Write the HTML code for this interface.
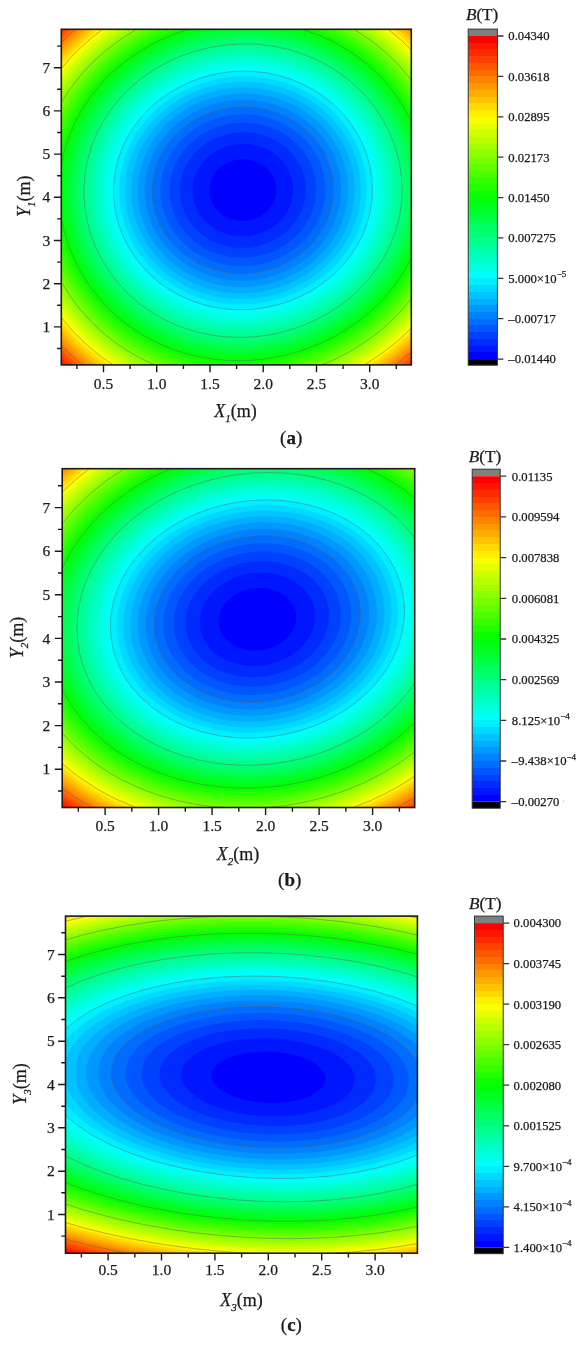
<!DOCTYPE html>
<html><head><meta charset="utf-8"><title>Figure</title>
<style>html,body{margin:0;padding:0;background:#fff;}body{width:587px;height:1348px;overflow:hidden;font-family:"Liberation Serif",serif;}svg{display:block;filter:blur(0.4px);}svg text{stroke:#1a1a1a;stroke-width:0.25px;}</style>
</head><body>
<svg width="587" height="1348" viewBox="0 0 587 1348">
<circle cx="563.4" cy="801" r="0.6" fill="#999"/>
<rect x="61.3" y="29.3" width="350" height="335.6" fill="#ff1600"/>
<path d="M61.3,29.3L411.3,29.3 411.3,364.9 65,364.9 61.3,361.4Z" fill="#ff2b00"/>
<path d="M61.3,30.9L63,29.3 411.3,29.3 411.3,362.8 408.7,364.9 69.2,364.9 61.3,357.5Z" fill="#ff4100"/>
<path d="M61.3,34.6L67,29.3 411.3,29.3 411.3,359.3 404.3,364.9 73.5,364.9 61.3,353.5Z" fill="#ff5700"/>
<path d="M61.3,38.5L71,29.3 411.3,29.3 411.3,355.7 399.8,364.9 77.9,364.9 71.8,359.5 61.3,349.4Z" fill="#ff6d00"/>
<path d="M61.3,42.4L75.2,29.3 411.3,29.3 411.3,352 395.2,364.9 82.5,364.9 75.8,359.2 61.3,345.2Z" fill="#ff8200"/>
<path d="M61.3,46.4L70,37.8 79.4,29.3 411.2,29.3 411.3,348.3 401.2,356.8 390.4,364.9 87.1,364.9 79.8,358.8 70.3,350.2 61.3,340.9Z" fill="#ff9800"/>
<path d="M61.3,50.6L72.3,39.5 83.8,29.3 406.9,29.3 411.3,33.3 411.3,344.4 398.8,355.1 385.5,364.9 91.9,364.9 84.3,358.8 72.3,348 61.3,336.5Z" fill="#ffae00"/>
<path d="M61.3,54.9L74.3,41.5 88.3,29.3 402.4,29.3 411.3,37.4 411.3,340.5 396.4,353.3 380.5,364.9 96.9,364.9 88.3,358.2 74.3,345.7 61.3,332Z" fill="#ffc300"/>
<path d="M61.3,59.3L68.6,51.3 76.3,43.6 84.4,36.3 92.9,29.3 397.8,29.3 411.3,41.5 411.3,336.4 402.8,344.2 394.2,351.3 384.9,358.3 375.2,364.9 102.1,364.9 92.8,357.9 84.3,350.8 76.3,343.4 68.8,335.8 61.3,327.3Z" fill="#ffd900"/>
<path d="M61.3,63.9L69.3,54.8 78.3,45.8 87.7,37.3 97.7,29.3 393,29.3 402.4,37.3 411.3,45.8 411.3,332.3 401.6,341.3 391.4,349.8 380.8,357.6 369.7,364.9 107.5,364.9 97.3,357.5 87.8,349.8 78.3,341.1 69.3,331.8 61.3,322.4Z" fill="#ffef00"/>
<path d="M61.3,68.6L70.6,57.8 80.5,47.8 91.1,38.3 102.6,29.3 388.1,29.3 400.1,39.3 411.3,50.1 411.3,328 400.5,338.3 389.1,347.8 376.8,356.8 364,364.9 113.1,364.9 102.1,357.3 90.8,348.3 80.3,338.7 70.4,328.3 61.3,317.4Z" fill="#faff00"/>
<path d="M61.3,73.6L71.6,61.3 82.8,49.8 94.8,39.1 107.7,29.3 383,29.3 397.8,41.4 411.3,54.7 411.3,323.6 399.3,335.3 386.7,345.8 372.8,355.8 358.1,364.9 119,364.9 106.8,356.8 94.3,347.1 82.3,336.2 71.3,324.6 61.3,312.2Z" fill="#e4ff00"/>
<path d="M61.3,78.8L72.3,65.1 84.8,52.1 98.3,40.2 113,29.3 377.8,29.3 386.8,36.2 395.3,43.4 403.7,51.3 411.3,59.3 411.3,319 398.3,332 383.8,344.2 368.3,355.2 351.8,364.9 125.2,364.9 112.3,356.8 97.8,345.9 84.4,333.8 72.2,320.8 61.3,306.8Z" fill="#ceff00"/>
<path d="M64.8,79.3L76.3,65.3 89.1,52.3 103.3,40.2 118.5,29.3 372.3,29.3 382.8,37 392.8,45.4 402.3,54.4 411.3,64.2 411.3,314.2 397.1,328.8 389.3,335.7 381.1,342.3 363.8,354.4 345.2,364.9 131.7,364.9 114.8,354.6 99.8,343.3 85.5,330.3 72.7,316.3 61.3,301.1 61.3,84.2Z" fill="#b8ff00"/>
<path d="M70.8,76.8L82.5,63.3 95.3,50.9 109.3,39.5 124.3,29.3 366.5,29.3 381.1,39.8 391.8,48.8 402,58.8 411.3,69.2 411.3,309.3 403.8,317.7 395.8,325.7 387.3,333.3 378.3,340.5 368.8,347.3 358.8,353.8 348.8,359.5 338.1,364.9 138.7,364.9 127.3,358.6 116.3,351.6 108.2,345.8 100.3,339.5 85.8,326 72.8,311.2 61.3,295.1 61.3,89.9Z" fill="#a3ff00"/>
<path d="M76.6,74.8L88.3,61.9 101.3,49.9 115.3,39.1 130.4,29.3 360.5,29.3 368.2,34.3 380.3,43.3 391.3,52.8 401.8,63.3 411.3,74.4 411.3,304.2 403.3,313.4 394.6,322.3 385.2,330.8 375.2,338.8 364.8,346.2 353.8,353 342.3,359.3 330.5,364.9 146.2,364.9 131.8,357.4 118.1,348.8 109.8,342.8 101.7,336.3 93.9,329.3 86.4,321.8 79.3,313.8 72.8,305.8 66.8,297.4 61.3,288.8 61.3,96 68.5,85.3Z" fill="#8dff00"/>
<path d="M83.1,72.3L94.8,60.1 107.8,48.8 121.8,38.5 136.7,29.3 354.1,29.3 366.7,37.3 379.3,46.8 390.8,56.9 401.3,67.8 411.3,79.9 411.3,298.8 402.6,309.3 393,319.3 382.8,328.6 371.8,337.3 360.2,345.3 347.8,352.7 335.3,359.2 322.2,364.9 154.4,364.9 136.7,356.3 128.1,351.3 119.7,345.8 110.8,339.3 102.3,332.3 94.3,325 86.8,317.2 79.5,308.8 73,300.3 66.9,291.3 61.3,282.1 61.3,102.5 71.5,86.8Z" fill="#77ff00"/>
<path d="M90.3,69.4L102.2,57.8 115.1,47.3 128.8,37.8 143.5,29.3 347.4,29.3 356.8,34.8 365.3,40.4 378.3,50.3 390.3,61.2 401.3,72.9 411.3,85.6 411.3,293.1 402,304.8 391.7,315.8 380.3,326.3 368.3,335.8 355.3,344.5 341.8,352.3 327.8,359 313,364.9 163.5,364.9 152.3,360.3 141.3,354.9 130.8,348.9 120.8,342.4 111.8,335.7 102.8,328.2 94.5,320.3 86.8,312 79.6,303.3 73,294.3 66.9,284.8 61.3,274.8 61.3,109.5 67.5,98.8 74.3,88.7 81.9,78.8Z" fill="#62ff00"/>
<path d="M98.3,66.1L110.3,55.3 122.8,45.8 136.3,37.1 150.8,29.3 340.1,29.3 353.3,36.7 365.6,44.8 378.3,54.8 390.6,66.3 401.3,78.3 411.3,91.7 411.3,287.2 399.3,302.7 388.4,314.3 376.3,325.2 363.1,335.3 349.2,344.3 334.3,352.3 318.8,359.2 302.6,364.9 173.9,364.9 159.8,359.7 146.3,353.6 133.3,346.4 120.8,338.2 111.3,330.9 102.6,323.3 94.3,315.1 86.5,306.3 79.3,297.1 72.6,287.3 66.6,277.3 61.3,266.9 61.3,117.2 68.8,103.3 77.4,90.3 87.2,77.8Z" fill="#4cff00"/>
<path d="M107.4,62.3L119.3,52.5 131.8,43.8 144.8,36.2 158.7,29.3 332.3,29.3 342.3,34.3 351.8,39.8 361.3,46 370.3,52.7 382,62.8 392.8,73.8 402.7,85.8 411.3,98.2 411.3,280.8 401.3,294.7 390.8,306.9 379.1,318.3 366.3,328.8 352.3,338.4 337.7,346.8 322.3,354.1 306.3,360.2 290,364.9 186.4,364.9 176.8,362.2 167.3,358.9 158.3,355.3 149.3,351.1 140.8,346.7 132.3,341.6 124.3,336.3 116.3,330.3 107.4,322.8 99.3,315.1 91.6,306.8 84.3,297.8 77.5,288.3 71.6,278.8 66.2,268.8 61.3,258 61.3,125.8 65.4,116.8 70,108.3 75.1,99.8 80.6,91.8 86.7,83.8 93.2,76.3 99.9,69.3Z" fill="#36ff00"/>
<path d="M117.8,58.1L129.3,49.6 141.3,42 153.9,35.3 167.3,29.3 323.7,29.3 337.6,35.8 350.8,43.3 363.3,51.8 375.3,61.5 385.5,71.3 394.9,81.8 403.7,93.3 411.3,105.1 411.3,273.9 402.3,287.5 392,300.3 380.4,312.3 367.7,323.3 353.8,333.3 338.8,342.3 323.3,349.9 307,356.3 290.3,361.3 273.3,364.9 203,364.9 185.8,361.1 175.3,358 165.3,354.3 155.3,350 145.8,345.3 136.8,340.2 127.7,334.3 119.3,328.1 111.1,321.3 102.8,313.5 95.1,305.3 87.8,296.4 81.3,287.4 75.3,277.9 70.1,268.3 65.4,258.3 61.3,247.8 61.3,135.8 65.8,124.5 71,113.8 77.1,103.3 83.8,93.4 91.3,83.8 99.4,74.8 108.3,66.2Z" fill="#21ff00"/>
<path d="M132.3,51.8L142.8,45.2 153.8,39.2 165.3,33.9 177.1,29.3 313.9,29.3 323.8,33.2 333.6,37.8 342.8,42.7 351.8,48.2 360.6,54.3 368.8,60.7 376.3,67.4 383.8,74.8 391.8,83.7 398.8,92.8 405.3,102.4 411.3,112.7 411.3,266.5 404.5,277.8 396.7,288.8 388,299.3 378.3,309.3 363.8,321.8 348.3,332.6 331.3,342.2 313.8,350.1 295.3,356.3 276.3,360.8 256.8,363.5 237.3,364.4 218.3,363.4 199.3,360.6 180.8,355.9 163.3,349.6 146.8,341.7 130.8,331.9 116.2,320.8 102.8,308.2 95.7,300.3 89,291.8 83,283.3 77.5,274.3 72.5,264.8 68.2,255.3 64.4,245.3 61.3,235.4 61.3,147.9 66,133.8 71.8,120.3 79.3,106.8 87.7,94.3 97.3,82.4 108,71.3 119.8,61Z" fill="#0bff00"/>
<path d="M149,45.8L158.6,40.8 168.3,36.5 178.3,32.6 188.4,29.3 302.6,29.3 315.8,33.9 328.8,39.5 340.9,45.8 352.8,53.3 363.8,61.4 374,70.3 383.4,79.8 392.3,90.3 402.7,105.3 411.3,121.1 411.3,258.2 406.8,266.8 401.8,275.1 396.3,283.2 390.3,290.9 383.8,298.4 376.8,305.6 369.6,312.3 361.7,318.8 346.3,329.6 330.2,338.8 312.8,346.6 294.6,352.8 275.8,357.3 257.3,359.9 238.3,360.8 219.3,359.9 200.8,357.1 182.8,352.7 165.8,346.6 149.2,338.8 133.8,329.5 119.3,318.5 106.2,306.3 94.3,292.6 84,277.8 75.2,261.8 68.3,245 63.3,227.8 61.3,217.7 61.3,165.3 62.9,157.3 67.6,140.3 74.3,123.8 82.8,108.1 93.1,93.3 104.8,79.7 118.3,66.9 132.8,55.8Z" fill="#00ff0b"/>
<path d="M174.8,37.7L188.8,32.9 202.7,29.3 288.3,29.3 298.1,31.8 307.6,34.8 322.8,40.8 337.7,48.3 351.3,56.8 364.4,66.8 376.3,77.8 387,89.8 396.5,102.8 404.8,116.8 411.3,130.6 411.3,248.7 405.1,261.8 397.8,274.3 389.1,286.3 379.3,297.7 368.4,308.3 356.8,317.9 344.3,326.5 330.8,334.3 314.3,342.1 296.8,348.3 278.8,352.9 260.8,355.8 242.3,357.1 223.8,356.5 205.8,354.3 188.3,350.4 171.3,344.8 155.3,337.7 139.8,328.8 125.7,318.8 112.6,307.3 100.8,294.5 90.3,280.4 81.6,265.8 74.3,250 68.8,233.8 65.1,216.8 63.2,199.8 63.3,182.8 65.2,165.8 68.9,149.3 74.6,132.8 81.9,117.3 90.8,102.8 101.6,88.8 113.8,75.9 127.4,64.3 142.3,53.9 158.3,45Z" fill="#00ff21"/>
<path d="M217.3,30.3L225.4,29.3 265.7,29.3 279.5,31.3 294.8,34.8 309.3,39.4 323.3,45.2 336.8,52.2 349.8,60.4 361.8,69.7 372.8,79.8 382.8,90.8 391.8,102.8 399.5,115.3 406,128.3 411.3,142 411.3,237.4 407.6,247.3 403.3,256.7 398.4,265.8 392.8,274.7 382.1,288.8 369.8,301.8 355.9,313.8 340.8,324.3 324.3,333.4 306.8,341 288.8,346.7 270.3,350.7 252.8,352.8 235.3,353.3 218.3,352.2 201.3,349.6 184.8,345.4 168.8,339.6 153.8,332.5 139.3,323.9 125.8,313.8 113.7,302.8 102.5,290.3 92.8,277 84.5,262.8 77.7,247.8 72.6,232.3 69,216.3 67.3,200.3 67.2,184.3 68.8,168.3 72,152.8 76.8,137.8 83.3,123.1 91.3,109.1 100.8,95.8 111.8,83.3 123.8,72.1 137.3,61.7 151.8,52.6 167.3,44.8 183.3,38.6 200.3,33.6Z" fill="#00ff36"/>
<path d="M246.3,32L265.3,33.1 283.8,36 301.8,40.9 318.8,47.4 327.3,51.4 335.3,55.8 350.6,65.8 364.5,77.3 371.2,83.8 377.1,90.3 382.9,97.3 388.3,104.8 397.4,119.8 401.3,127.8 404.7,135.8 407.8,144.3 411.3,157.1 411.3,222.5 407.4,236.3 402.3,249.3 395.7,262.3 387.9,274.8 379,286.3 368.8,297.3 357.8,307.3 345.9,316.3 332.8,324.6 319.3,331.6 304.8,337.7 290.3,342.4 275.3,346 259.8,348.3 244.3,349.4 228.8,349.2 212.3,347.6 196.3,344.5 180.8,340 165.8,334 151.3,326.6 137.8,318 125.3,308.2 113.9,297.3 103.6,285.3 94.6,272.3 87,258.8 80.7,244.3 76,229.3 72.9,214.3 71.3,198.8 71.3,183.3 72.9,168.3 76.1,153.3 80.8,138.8 86.9,124.8 94.6,111.3 103.4,98.8 113.8,86.8 125.3,75.9 137.8,66.1 151.3,57.3 165.8,49.7 181.3,43.3 197.2,38.3 213.3,34.8 229.8,32.7Z" fill="#00ff4c"/>
<path d="M240.3,35.9L256.8,36.2 273.3,38 289.3,41.3 305.3,46.2 320.3,52.4 334.8,60.1 348.3,69.1 360.7,79.3 371.8,90.4 381.9,102.8 390.7,116.3 397.9,130.3 403.6,144.8 407.6,159.8 410.1,175.3 410.8,190.8 409.8,206.3 407.3,221.3 403.1,235.8 397.3,250.3 390.1,263.8 381.3,276.9 371.3,288.9 359.8,300.3 347.3,310.4 333.3,319.7 318.8,327.5 303.3,334.1 287.3,339.2 270.9,342.8 254.3,344.9 237.8,345.6 221.8,344.7 205.8,342.4 190.3,338.7 175.3,333.7 160.8,327.2 147.3,319.5 134.3,310.3 122.7,300.3 111.8,288.8 102.5,276.8 94.3,263.7 87.4,249.8 82,235.3 78.3,220.8 76,205.8 75.3,190.3 76.2,175.3 78.5,160.8 82.5,146.3 87.9,132.3 94.8,118.8 103.2,105.8 112.8,93.8 123.5,82.8 135.3,72.8 148.3,63.7 162.2,55.8 176.8,49.1 191.9,43.8 207.8,39.7 223.8,37.1Z" fill="#00ff62"/>
<path d="M238.3,39.9L254.8,40.1 270.8,41.7 286.7,44.8 302,49.3 316.8,55.3 330.8,62.5 344.3,71.3 356.3,80.9 367.4,91.8 377.4,103.8 386.1,116.8 393.3,130.3 398.9,144.3 403,158.8 405.6,173.8 406.5,188.8 405.8,203.8 403.5,218.3 399.6,232.8 394.3,246.6 387.3,260.2 379.1,272.8 369.4,284.8 358.6,295.8 346.7,305.8 333.3,315 319.2,322.8 304.3,329.4 288.8,334.6 273.3,338.3 257.3,340.6 240.8,341.5 224.8,340.9 209.3,339 194.3,335.6 179.3,330.8 165.3,324.8 151.7,317.3 139.2,308.8 127.3,298.8 116.8,288.1 107.3,276.3 99.2,263.8 92.3,250.3 86.8,236.3 82.9,221.8 80.4,207.3 79.5,192.3 80.2,177.8 82.4,163.3 86,149.3 91.2,135.3 97.8,122 105.8,109.4 114.8,97.8 125.3,86.8 136.8,76.8 149.3,67.8 162.8,60 176.8,53.4 191.8,48 206.8,44 222.3,41.3Z" fill="#00ff77"/>
<path d="M238.8,44L254.8,44.2 270.3,45.7 285.8,48.8 300.8,53.3 315.3,59.2 328.8,66.2 341.3,74.3 353.3,83.9 364.3,94.7 373.8,106.2 382.3,118.8 389.1,131.8 394.8,145.8 398.7,159.8 401.2,174.3 402.1,188.8 401.4,203.3 399.1,217.8 395.3,231.8 390.1,245.3 383.4,258.3 375.3,270.7 365.9,282.3 355.3,293.1 343.7,302.8 330.8,311.6 317.3,319.1 302.8,325.6 287.8,330.6 272.3,334.3 256.8,336.6 240.8,337.4 225.3,336.8 210.3,334.9 195.3,331.5 180.8,326.8 166.9,320.8 153.8,313.6 141.7,305.3 130.4,295.8 120.1,285.3 110.8,273.6 102.8,261.3 96.2,248.3 91,234.8 87.1,220.8 84.8,206.8 83.9,192.3 84.6,177.8 86.7,163.8 90.3,150.1 95.3,136.8 101.7,123.8 109.3,111.8 118.2,100.3 128.3,89.7 139.7,79.8 151.8,71.1 164.8,63.5 178.8,57 193.3,51.7 208.3,47.8 223.3,45.2Z" fill="#00ff8d"/>
<path d="M244.3,48.1L259.8,48.7 274.8,50.8 289.8,54.2 304.3,59.1 318.2,65.3 331.3,72.8 343.3,81.3 354.3,90.8 364.3,101.4 373.5,113.3 381.1,125.8 387.3,138.8 392.1,152.3 395.4,166.3 397.2,180.3 397.4,194.8 396.1,208.8 393.3,222.8 388.9,236.3 383.2,249.3 376,261.8 367.4,273.8 357.6,284.8 346.8,294.8 334.8,303.9 321.8,312 308,318.8 293.8,324.3 278.8,328.6 263.8,331.4 248.8,332.9 233.3,333 218.3,331.8 203.8,329.2 189.8,325.4 176.2,320.3 163.3,314 150.8,306.4 139.3,297.7 128.8,288.1 119.2,277.3 110.8,265.8 103.8,253.7 97.9,240.8 93.4,227.3 90.4,213.8 88.8,200.3 88.6,186.3 89.8,172.8 92.4,159.3 96.3,146.3 101.8,133.3 108.3,121.3 116.3,109.7 125.4,98.8 135.8,88.6 147.3,79.4 159.3,71.5 172.3,64.5 185.8,58.7 199.8,54.2 214.6,50.8 229.3,48.8Z" fill="#00ffa3"/>
<path d="M236.8,52.5L251.8,52.5 266.4,53.8 280.8,56.4 295.3,60.5 308.8,65.7 321.8,72.3 333.8,79.8 345.3,88.7 355.8,98.7 364.9,109.3 372.9,120.8 379.8,133.3 385.2,146.3 389.2,159.3 391.7,172.8 392.8,186.3 392.4,199.8 390.6,213.3 387.4,226.3 382.7,239.3 376.7,251.8 369.3,263.6 360.7,274.8 350.8,285.2 339.8,294.7 328.3,302.9 315.6,310.3 302.3,316.5 288.3,321.5 273.8,325.3 259.3,327.6 244.3,328.7 229.8,328.5 215.3,326.9 201.3,324.1 187.8,320 174.8,314.8 162.3,308.3 150.3,300.5 139.3,291.7 129.3,282 120.3,271.3 112.5,259.8 106,247.8 100.8,235.3 96.8,221.8 94.3,208.3 93.2,194.8 93.5,181.3 95.2,168.3 98.3,155.3 102.8,142.3 108.7,129.8 115.7,118.3 123.9,107.3 133.3,97.1 143.8,87.6 155.1,79.3 167.3,71.9 180.3,65.6 193.8,60.5 207.8,56.6 222.3,53.9Z" fill="#00ffb8"/>
<path d="M256.3,57.2L270.8,59 284.8,62 298.8,66.5 311.8,72.2 324.3,79.1 335.8,87 346.8,96.3 356.3,106.2 364.8,117.1 372.1,128.8 378.2,141.3 382.7,153.8 385.9,166.8 387.6,180.3 387.9,193.8 386.7,207.3 384.1,220.3 380,233.3 374.5,245.8 367.8,257.4 359.8,268.5 350.7,278.8 340.3,288.4 328.8,297.1 316.3,304.8 303.3,311.2 289.8,316.3 275.8,320.2 261.3,322.9 246.8,324.2 232.3,324.1 217.8,322.7 204.3,320.1 191.3,316.4 178.3,311.3 166.4,305.3 155.3,298.3 144.8,290.3 135.2,281.3 126.3,271.2 118.8,260.8 112.1,249.3 106.7,237.3 102.5,224.8 99.7,212.3 98.2,199.3 98,186.3 99.2,173.3 101.7,160.8 105.6,148.3 110.4,136.8 116.7,125.3 123.9,114.8 132.3,104.7 141.8,95.4 152.3,86.8 163.5,79.3 175.3,72.8 187.9,67.3 201.3,62.8 214.8,59.6 228.8,57.6 242.8,56.8Z" fill="#00ffce"/>
<path d="M236.3,61.6L250.3,61.5 263.8,62.6 277.3,65 290.8,68.7 303.8,73.6 315.8,79.6 327.3,86.7 337.8,94.7 347.5,103.8 356.2,113.8 363.8,124.5 370.2,135.8 375.3,147.5 379.2,159.8 381.7,172.3 382.9,185.3 382.7,197.8 381.2,210.3 378.3,222.8 374.1,234.8 368.7,246.3 361.8,257.6 353.8,268.2 344.9,277.8 334.8,286.8 323.8,294.8 312,301.8 299.8,307.6 286.8,312.4 273.3,316 259.8,318.4 245.8,319.5 232.3,319.4 218.8,318.1 205.3,315.5 192.6,311.8 180.3,307 168.3,300.8 157.3,293.8 147,285.8 137.6,276.8 129,266.8 121.7,256.3 115.4,244.8 110.3,232.9 106.6,220.8 104.1,208.3 103,195.8 103.2,183.3 104.7,170.8 107.5,158.3 111.6,146.3 116.9,134.8 123.4,123.8 131.2,113.3 139.8,103.8 149.7,94.8 160.3,86.9 171.8,79.9 183.8,74 196.3,69.2 209.3,65.5 222.8,62.9Z" fill="#00ffe4"/>
<path d="M243.8,66.1L257.3,66.7 270.3,68.5 283.3,71.4 295.8,75.6 307.8,80.9 319.3,87.3 330,94.8 339.8,103.2 348.8,112.7 356.6,122.8 363.3,133.6 368.7,144.8 373,156.8 375.9,168.8 377.5,180.8 377.7,193.3 376.7,205.8 374.3,217.7 370.7,229.3 365.7,240.8 359.6,251.8 352.1,262.3 343.8,271.9 334.3,280.8 323.9,288.8 312.8,295.8 300.8,301.9 288.4,306.8 275.3,310.6 262.3,313.2 249.3,314.5 235.8,314.7 222.8,313.7 209.8,311.5 197.3,308.2 185.4,303.8 174,298.3 163.2,291.8 153.1,284.3 143.8,275.9 135.5,266.8 128.1,256.8 121.8,246.1 116.5,234.8 112.6,223.3 109.8,211.3 108.4,199.3 108.1,187.3 109.2,175.3 111.5,163.3 115,151.8 119.6,140.8 125.3,130.3 132.3,120 140.3,110.4 149.1,101.8 158.8,93.9 169.4,86.8 180.8,80.6 192.8,75.5 205.3,71.4 217.8,68.6 230.8,66.8Z" fill="#00fffa"/>
<path d="M240.8,71.1L253.8,71.4 266.3,72.8 278.8,75.4 291.3,79.3 302.8,84.1 313.8,89.9 324.1,96.8 333.8,104.7 342.4,113.3 350.2,122.8 356.8,132.9 362.5,143.8 366.8,154.8 369.9,166.3 371.8,177.8 372.4,189.8 371.7,201.8 369.8,213.3 366.6,224.8 362.3,235.7 356.7,246.3 350.1,256.3 342.4,265.8 333.8,274.4 324.2,282.3 313.8,289.4 302.8,295.4 290.8,300.6 278.3,304.7 265.8,307.5 253.3,309.2 240.3,309.8 227.8,309.2 215.3,307.5 203.3,304.7 191.3,300.7 179.8,295.5 169.3,289.6 159.3,282.6 150.3,274.9 142,266.3 134.6,256.8 128.2,246.8 123,236.3 118.8,225.3 115.8,213.8 114,202.3 113.4,190.8 114.1,179.3 115.9,167.8 118.9,156.8 123.1,145.8 128.4,135.3 134.8,125.3 142.3,115.9 150.6,107.3 159.8,99.5 169.8,92.5 180.6,86.3 191.8,81.2 203.8,77 215.8,74 228.3,72Z" fill="#00efff"/>
<path d="M247.8,76.3L260.3,77.2 272.3,79.2 283.9,82.3 295.3,86.5 306.3,91.8 316.8,98.2 326.3,105.3 334.9,113.3 342.8,122.2 349.7,131.8 355.4,141.8 360,152.3 363.4,163.3 365.7,174.3 366.7,185.8 366.5,197.3 365,208.8 362.3,219.8 358.6,230.3 353.5,240.8 347.3,250.8 340.4,259.8 332.3,268.4 323.3,276.3 313.3,283.4 302.8,289.5 291.3,294.8 279.8,298.8 267.8,301.8 255.3,303.8 242.8,304.6 230.8,304.2 218.8,302.7 207.3,300.3 196.2,296.8 185.4,292.3 175.1,286.8 165.3,280.3 156.6,273.3 148.5,265.3 141.3,256.7 134.9,247.3 129.5,237.3 125.3,227.1 122.1,216.3 120,205.3 119.1,194.3 119.3,183.3 120.7,172.3 123.2,161.8 126.8,151.3 131.4,141.3 137,131.8 143.8,122.5 151.3,114.1 159.8,106.3 169.3,99.1 179.3,92.9 189.8,87.7 200.8,83.4 212.3,80.1 223.8,77.8 235.8,76.5Z" fill="#00d9ff"/>
<path d="M241.3,81.7L252.8,81.9 264.3,83.3 275.8,85.7 286.8,89.1 297.3,93.4 307.4,98.8 317.2,105.3 325.8,112.4 333.7,120.3 340.6,128.8 346.8,138.2 351.8,147.8 355.9,158.3 358.7,168.8 360.4,179.3 360.9,190.3 360.3,200.8 358.5,211.3 355.6,221.8 351.6,231.8 346.3,241.8 340.3,250.8 333.3,259.3 325.3,267.3 316.7,274.3 307,280.8 296.9,286.3 286.3,290.9 275.3,294.4 263.8,297.1 252.3,298.6 240.3,299.1 228.8,298.5 217.3,296.9 206.3,294.2 195.8,290.7 185.8,286.3 175.8,280.6 166.8,274.4 158.5,267.3 150.8,259.3 144.3,251 138.4,241.8 133.7,232.3 129.8,222.3 127.1,211.8 125.4,201.3 124.9,190.8 125.5,180.3 127.2,169.8 129.8,159.8 133.7,149.8 138.5,140.3 144.3,131.2 151.3,122.4 158.8,114.6 167.3,107.4 176.3,101.1 186.3,95.4 196.4,90.8 207.3,87 218.3,84.2 229.8,82.4Z" fill="#00c3ff"/>
<path d="M231.3,88L242.3,87.3 253.3,87.7 264.3,89.1 274.8,91.3 285.3,94.7 295,98.8 304.3,103.8 313.3,109.8 321.3,116.3 328.8,123.8 335.4,131.8 341.3,140.8 346,149.8 349.7,159.3 352.4,168.8 354.1,178.8 354.7,188.8 354.2,198.8 352.7,208.8 350.2,218.3 346.7,227.8 342.2,236.8 336.8,245.3 330.2,253.8 323,261.3 314.9,268.3 306.3,274.4 296.8,279.9 287.2,284.3 276.8,288 266.3,290.7 255.3,292.5 244.3,293.3 233.3,293.1 222.3,291.9 211.8,289.7 201.8,286.7 191.8,282.6 182.3,277.7 173.3,271.8 164.8,264.9 157.3,257.5 150.6,249.3 144.9,240.8 140.2,231.8 136.3,222.3 133.5,212.3 131.8,202.3 131.1,192.3 131.5,182.3 132.9,172.3 135.5,162.3 139,152.8 143.7,143.3 149.3,134.5 155.8,126.3 163,118.8 171.1,111.8 179.8,105.7 189.3,100.3 199.3,95.8 209.8,92.2 220.3,89.6Z" fill="#00aeff"/>
<path d="M231.8,94L242.3,93.4 252.3,93.7 262.8,94.9 272.8,97.1 282.3,100.1 291.8,104.1 300.6,108.8 308.8,114.2 316.3,120.3 323.4,127.3 329.6,134.8 335,142.8 339.5,151.3 343.2,160.3 345.8,169.3 347.5,178.8 348.1,188.3 347.7,197.8 346.3,207.3 344,216.3 340.7,225.3 336.5,233.8 331.3,242.1 325.3,249.8 318.6,256.8 311.2,263.3 302.8,269.3 294.2,274.3 284.8,278.7 275.3,282.1 265.3,284.7 255.3,286.4 244.8,287.2 234.3,287 223.8,285.9 213.8,283.9 204.3,281 194.8,277.1 185.8,272.4 177.3,266.9 169.7,260.8 162.6,253.8 156.3,246.2 150.8,238.1 146.1,229.3 142.5,220.3 139.9,211.3 138.3,201.8 137.6,192.3 138,182.8 139.4,173.3 141.8,163.8 145.2,154.8 149.4,146.3 154.7,137.8 160.6,130.3 167.8,122.8 175.3,116.4 183.3,110.8 192.3,105.6 201.8,101.3 211.3,98.1 221.3,95.6Z" fill="#0098ff"/>
<path d="M245.8,99.8L255.8,100.4 265.3,102 274.8,104.4 283.8,107.7 292.3,111.7 300.3,116.4 307.8,121.9 315,128.3 321.3,135.2 326.8,142.6 331.3,150.3 335.2,158.8 338.1,167.3 340.1,176.3 341,185.3 341,194.3 340,203.3 338.1,211.8 335.3,220.3 331.4,228.8 326.6,236.8 321.1,244.3 314.8,251.2 307.8,257.5 299.9,263.3 291.8,268.2 283.2,272.3 273.8,275.8 264.3,278.3 254.8,279.9 245.3,280.7 235.3,280.6 225.8,279.6 216.8,277.9 207.8,275.2 199,271.8 190.8,267.6 183.1,262.8 175.8,257.1 169.1,250.8 163.3,244.1 158.1,236.8 153.6,228.8 150.1,220.8 147.4,212.3 145.5,203.3 144.7,194.8 144.7,185.8 145.7,177.3 147.5,168.8 150.3,160.3 153.9,152.3 158.3,144.6 163.5,137.3 169.7,130.3 176.3,124.1 183.8,118.3 191.3,113.6 199.6,109.3 208.3,105.8 217.3,103.1 226.8,101.1 236.3,100Z" fill="#0082ff"/>
<path d="M239.8,106.7L248.8,106.8 257.8,107.7 266.3,109.3 274.8,111.8 282.8,114.9 290.8,118.9 298.3,123.7 304.9,128.8 311.2,134.8 316.8,141.3 321.7,148.3 325.6,155.3 328.8,162.8 331.3,170.8 332.8,178.8 333.6,187.3 333.4,195.3 332.3,203.6 330.3,211.8 327.6,219.3 324.1,226.8 319.5,234.3 314.3,241.1 308.5,247.3 301.8,253.1 294.8,258.2 287.3,262.6 279.3,266.3 270.8,269.4 262.3,271.6 253.3,273.1 244.3,273.8 235.3,273.6 226.8,272.7 218.3,271 209.8,268.4 201.8,265.2 194.2,261.3 186.8,256.5 180.2,251.3 174,245.3 168.5,238.8 163.8,231.9 159.9,224.8 156.8,217.3 154.3,209.3 152.8,201.3 152.1,192.8 152.4,184.3 153.5,176.3 155.4,168.3 158.1,160.8 161.7,153.3 166,146.3 170.8,139.8 176.8,133.3 183.3,127.6 190.3,122.4 197.8,118 205.6,114.3 213.8,111.3 222.3,109 230.8,107.5Z" fill="#006dff"/>
<path d="M240.8,114.2L249.3,114.4 257.3,115.3 265.3,116.9 272.8,119.2 280.3,122.2 287.2,125.8 293.8,130.1 299.8,134.8 305.5,140.3 310.6,146.3 314.8,152.5 318.5,159.3 321.4,166.3 323.4,173.3 324.8,180.8 325.4,188.3 325.1,195.8 324,203.3 322.1,210.8 319.5,217.8 316,224.8 311.8,231.3 307.1,237.3 301.8,242.8 295.8,248 289.3,252.5 282.3,256.5 275.1,259.8 267.3,262.5 259.3,264.5 251.3,265.7 243.3,266.2 235.3,266 227.3,265 219.3,263.3 211.8,261 204.3,257.8 197.7,254.3 191.3,250.1 185.3,245.3 179.8,239.8 174.8,233.8 170.4,227.3 167,220.8 164.2,213.8 162.1,206.8 160.8,199.3 160.3,191.8 160.6,184.3 161.7,176.8 163.5,169.8 166,162.8 169.3,156.1 173.3,149.7 177.8,143.8 183.3,137.9 189.2,132.8 195.4,128.3 202.3,124.3 209.7,120.8 217.3,118.1 224.8,116.2 232.8,114.8Z" fill="#0057ff"/>
<path d="M235.8,122.9L243.3,122.6 250.3,122.9 257.3,123.8 264.3,125.4 270.8,127.5 277.4,130.3 283.8,133.8 289.3,137.5 294.5,141.8 299.5,146.8 303.8,152.1 307.5,157.8 310.6,163.8 313,169.8 314.8,176.3 315.9,182.8 316.2,189.3 315.9,195.8 314.9,202.3 313.2,208.8 310.8,215.2 307.8,221.1 304.2,226.8 299.8,232.3 294.9,237.3 289.6,241.8 283.9,245.8 277.8,249.2 271.3,252.2 264.8,254.4 257.8,256.2 250.8,257.3 243.3,257.8 236.3,257.6 229.3,256.8 222.3,255.3 215.3,253.1 208.8,250.4 202.8,247.2 196.8,243.3 191.3,238.8 186.3,233.8 182.2,228.8 178.3,223 175.3,217.3 172.7,210.8 170.9,204.3 169.8,197.8 169.4,191.3 169.7,184.3 170.7,177.8 172.4,171.3 174.9,164.8 178,158.8 181.5,153.3 185.9,147.8 190.8,142.8 196.1,138.3 201.9,134.3 208.2,130.8 214.8,127.9 221.3,125.7 228.3,124Z" fill="#0041ff"/>
<path d="M237.3,132.4L243.8,132.1 249.8,132.4 255.8,133.3 261.8,134.7 267.3,136.5 272.8,138.9 278,141.8 283.2,145.3 287.8,149.2 291.8,153.3 295.4,157.8 298.6,162.8 301.1,167.8 303.2,173.3 304.7,178.8 305.5,184.3 305.8,189.8 305.5,195.8 304.5,201.3 303,206.8 300.8,212.3 298.2,217.3 294.9,222.3 291.3,226.7 287.3,230.8 282.5,234.8 277.4,238.3 272.3,241.1 266.8,243.5 260.8,245.5 254.8,247 248.8,247.8 242.3,248.1 236.3,247.9 230.3,247.1 224.3,245.8 218.3,243.8 212.8,241.4 207.8,238.7 202.8,235.3 198.3,231.6 194,227.3 190.4,222.8 187.2,217.8 184.6,212.8 182.5,207.3 181,201.8 180,195.8 179.8,189.8 180.1,184.3 181.1,178.8 182.6,173.3 184.8,167.8 187.4,162.8 190.7,157.8 194.4,153.3 198.8,148.9 203.3,145.2 208.3,141.8 213.8,138.8 219.3,136.5 225.3,134.5 231.3,133.2Z" fill="#002bff"/>
<path d="M237.3,143.9L247.3,143.8 256.8,145.4 266.3,148.8 274.3,153.6 281.3,159.8 287,167.3 290.8,175.4 292.9,184.3 293.1,193.3 291.4,202.3 287.8,210.8 282.6,218.3 275.8,225 267.8,230.2 258.8,234 249.3,236.1 239.3,236.5 229.3,235 220,231.8 211.8,227.1 204.6,220.8 198.8,213.3 194.8,204.8 192.6,195.8 192.4,186.8 194.2,177.8 197.8,169.3 203.3,161.4 210.2,154.8 218.3,149.6 227.3,146Z" fill="#0016ff"/>
<path d="M238.3,159.5L244.8,159.2 251.3,160.1 257.3,162.1 263.1,165.3 267.8,169.3 271.8,174.3 274.6,179.8 276,185.3 276.3,191.3 275.4,197.3 273.3,202.8 269.8,208.2 265.3,212.8 260.3,216.3 254.8,218.8 248.3,220.5 241.8,221 235.3,220.3 228.8,218.3 223.1,215.3 218.1,211.3 214,206.3 211.2,200.8 209.5,194.8 209.2,188.8 210.2,182.8 212.3,177.2 215.8,171.8 220.3,167.2 225.8,163.5 231.8,160.9Z" fill="#0000ff"/>
<path d="M240.3,106.7L231.3,107.4 222.8,108.9 214.3,111.1 205.8,114.2 197.8,118 190.5,122.3 183.6,127.3 177.3,132.8 171.3,139.3 166.3,145.8 162,152.8 158.3,160.3 155.6,167.8 153.6,175.8 152.4,183.8 152.1,192.3 152.7,200.8 154.2,208.8 156.6,216.8 159.7,224.3 163.7,231.8 168.3,238.6 173.5,244.8 179.6,250.8 186.3,256.2 193.3,260.8 200.8,264.8 208.8,268.1 217.3,270.7 225.8,272.5 234.3,273.5 243.3,273.8 252.3,273.2 261.3,271.8 269.8,269.7 278.3,266.7 286.3,263.1 293.8,258.8 301,253.8 307.8,247.9 313.8,241.7 319.1,234.8 323.5,227.8 327.2,220.3 330,212.8 332.1,204.8 333.3,196.8 333.6,188.3 333,179.8 331.5,171.8 329.1,163.8 326,156.3 322,148.8 317.2,141.8 311.7,135.3 305.5,129.3 298.8,124 291.3,119.2 283.7,115.3 275.3,111.9 266.8,109.4 258.3,107.8 249.3,106.8ZM241.3,71.1L228.8,71.9 216.3,73.9 204.3,76.9 192.3,81 180.8,86.2 170.1,92.3 160,99.3 150.8,107.1 142.4,115.8 135.2,124.8 128.7,134.8 123.3,145.3 119,156.3 116,167.3 114.1,178.8 113.4,190.3 114,202.3 115.8,213.8 118.8,225.3 122.8,235.9 128.2,246.8 134.6,256.8 141.8,266 150.2,274.8 159.3,282.6 169.3,289.6 179.8,295.5 191.3,300.7 202.8,304.5 214.8,307.4 227.3,309.2 239.8,309.8 252.8,309.3 265.3,307.6 277.8,304.8 290.3,300.8 302,295.8 313.3,289.7 323.8,282.6 333.3,274.8 341.9,266.3 349.8,256.8 356.4,246.8 362,236.3 366.4,225.3 369.7,213.8 371.7,202.3 372.4,190.3 371.8,178.3 370,166.8 366.9,155.3 362.5,143.8 357,133.3 350.3,123 342.4,113.3 333.9,104.8 324.3,96.9 313.8,89.9 302.8,84.1 291.3,79.3 279.3,75.6 266.8,72.9 254.3,71.4ZM240.3,43.9L224.8,45.1 209.8,47.5 194.8,51.3 180.3,56.4 166.3,62.8 153.3,70.2 141,78.8 129.8,88.3 119.6,98.8 110.4,110.3 102.6,122.3 95.9,135.3 90.8,148.6 87.1,162.3 84.8,176.3 83.9,190.3 84.6,204.8 86.7,218.8 90.3,232.8 95.3,246.3 101.7,259.3 109.5,271.8 118.4,283.3 128.8,294.3 140.3,304.2 152.3,312.6 165.3,320 178.8,326.1 192.8,330.8 207.8,334.4 222.8,336.6 238.3,337.4 254.3,336.8 269.8,334.8 285.3,331.3 300.3,326.5 314.9,320.3 328.8,312.8 341.8,304.2 353.8,294.5 364.6,283.8 374.1,272.3 382.3,260.2 389.3,247 394.8,233.3 398.8,219.3 401.2,205.3 402.1,190.8 401.4,176.3 399.2,161.8 395.3,147.4 390.1,133.8 383.1,120.3 375,107.8 365.3,95.8 354.8,85.3 343.3,75.8 330.3,67.1 316.7,59.8 302.3,53.8 287.3,49.2 271.8,46 256.3,44.2ZM188.4,29.3L176.3,33.3 164.3,38.2 152.8,43.7 141.8,50 131.3,56.9 121.3,64.4 111.8,72.7 103.3,81.2 95.3,90.5 87.9,100.3 81.5,110.3 75.8,120.8 70.8,131.8 66.8,142.8 63.7,153.8 61.3,165.3M411.3,121.1L402.7,105.3 392.3,90.3 380.6,76.8 367.3,64.3 352.8,53.3 336.8,43.5 320.3,35.7 302.6,29.3M61.3,217.7L64.2,231.3 68.1,244.3 73.2,257.3 79.3,269.8 86.6,281.8 94.8,293.2 103.8,303.8 113.8,313.7 124.3,322.6 135.8,330.8 147.8,338 160.8,344.5 174,349.8 187.8,354.1 201.8,357.3 215.8,359.5 230.3,360.6 245.3,360.7 260.3,359.6 275.3,357.4 289.8,354.1 304.3,349.7 318.3,344.3 331.8,338 344.8,330.6 356.8,322.5 368.3,313.4 378.8,303.7 388.3,293.3 397.3,281.8 404.8,270.3 411.3,258.2M136.7,29.3L125.1,36.3 113.8,44.1 103.3,52.5 93.6,61.3 84.4,70.8 76,80.8 68.3,91.3 61.3,102.5M411.3,79.9L399.1,65.3 385.3,51.9 370.3,39.8 354.1,29.3M61.3,282.1L69.8,295.8 79.1,308.3 89.3,319.9 100.8,331 113.3,341.2 126.3,350.2 140.3,358.2 154.4,364.9M322.2,364.9L335.3,359.2 347.8,352.7 360.2,345.3 371.8,337.3 382.8,328.6 393,319.3 402.6,309.3 411.3,298.8M102.6,29.3L91.1,38.3 80.5,47.8 70.6,57.8 61.3,68.6M411.3,50.1L400.1,39.3 388.1,29.3M61.3,317.4L72.6,330.8 85.2,343.3 98.8,354.8 113.1,364.9M364,364.9L376.8,356.8 389.1,347.8 400.5,338.3 411.3,328M75.2,29.3L61.3,42.4M61.3,345.2L71.5,355.3 82.5,364.9M395.2,364.9L411.3,352" fill="none" stroke="#606060" stroke-opacity="0.45" stroke-width="1"/>
<rect x="61.3" y="29.3" width="350" height="335.6" fill="none" stroke="#1a1a1a" stroke-width="1.6"/><path d="M76.9,364.9v4.2M103.5,364.9v7.4M130.1,364.9v4.2M156.7,364.9v7.4M183.4,364.9v4.2M210,364.9v7.4M236.6,364.9v4.2M263.2,364.9v7.4M289.8,364.9v4.2M316.5,364.9v7.4M343.1,364.9v4.2M369.7,364.9v7.4M396.3,364.9v4.2M61.3,348.5h-4.2M61.3,326.9h-7.4M61.3,305.3h-4.2M61.3,283.7h-7.4M61.3,262.1h-4.2M61.3,240.5h-7.4M61.3,218.9h-4.2M61.3,197.3h-7.4M61.3,175.7h-4.2M61.3,154.1h-7.4M61.3,132.5h-4.2M61.3,110.9h-7.4M61.3,89.3h-4.2M61.3,67.7h-7.4M61.3,46.1h-4.2" stroke="#1a1a1a" stroke-width="1.4" fill="none"/><g font-family="Liberation Serif" font-size="15.5" fill="#1a1a1a"><text x="103.5" y="388.8" text-anchor="middle">0.5</text><text x="156.7" y="388.8" text-anchor="middle">1.0</text><text x="210" y="388.8" text-anchor="middle">1.5</text><text x="263.2" y="388.8" text-anchor="middle">2.0</text><text x="316.5" y="388.8" text-anchor="middle">2.5</text><text x="369.7" y="388.8" text-anchor="middle">3.0</text><text x="50.3" y="332" text-anchor="end">1</text><text x="50.3" y="288.8" text-anchor="end">2</text><text x="50.3" y="245.6" text-anchor="end">3</text><text x="50.3" y="202.4" text-anchor="end">4</text><text x="50.3" y="159.2" text-anchor="end">5</text><text x="50.3" y="116" text-anchor="end">6</text><text x="50.3" y="72.8" text-anchor="end">7</text></g><text x="214.3" y="417.4" font-family="Liberation Serif" font-size="18" fill="#1a1a1a"><tspan font-style="italic">X</tspan><tspan font-style="italic" font-size="11" dy="4.5">1</tspan><tspan dy="-4.5">(m)</tspan></text><text transform="translate(30,196.2) rotate(-90)" text-anchor="middle" font-family="Liberation Serif" font-size="18" fill="#1a1a1a"><tspan font-style="italic">Y</tspan><tspan font-style="italic" font-size="11" dy="4.5">1</tspan><tspan dy="-4.5">(m)</tspan></text><text x="280.1" y="443.6" font-family="Liberation Serif" font-size="19" fill="#1a1a1a">(<tspan font-weight="bold">a</tspan>)</text>
<rect x="468.2" y="29.1" width="29.2" height="6.9" fill="#808080"/>
<rect x="468.2" y="359.1" width="29.2" height="6.1" fill="#000"/>
<defs><linearGradient id="g29" x1="0" y1="0" x2="0" y2="1"><stop offset="0.000%" stop-color="#ff0000"/><stop offset="2.083%" stop-color="#ff0000"/><stop offset="2.083%" stop-color="#ff1600"/><stop offset="4.167%" stop-color="#ff1600"/><stop offset="4.167%" stop-color="#ff2b00"/><stop offset="6.250%" stop-color="#ff2b00"/><stop offset="6.250%" stop-color="#ff4100"/><stop offset="8.333%" stop-color="#ff4100"/><stop offset="8.333%" stop-color="#ff5700"/><stop offset="10.417%" stop-color="#ff5700"/><stop offset="10.417%" stop-color="#ff6d00"/><stop offset="12.500%" stop-color="#ff6d00"/><stop offset="12.500%" stop-color="#ff8200"/><stop offset="14.583%" stop-color="#ff8200"/><stop offset="14.583%" stop-color="#ff9800"/><stop offset="16.667%" stop-color="#ff9800"/><stop offset="16.667%" stop-color="#ffae00"/><stop offset="18.750%" stop-color="#ffae00"/><stop offset="18.750%" stop-color="#ffc300"/><stop offset="20.833%" stop-color="#ffc300"/><stop offset="20.833%" stop-color="#ffd900"/><stop offset="22.917%" stop-color="#ffd900"/><stop offset="22.917%" stop-color="#ffef00"/><stop offset="25.000%" stop-color="#ffef00"/><stop offset="25.000%" stop-color="#faff00"/><stop offset="27.083%" stop-color="#faff00"/><stop offset="27.083%" stop-color="#e4ff00"/><stop offset="29.167%" stop-color="#e4ff00"/><stop offset="29.167%" stop-color="#ceff00"/><stop offset="31.250%" stop-color="#ceff00"/><stop offset="31.250%" stop-color="#b8ff00"/><stop offset="33.333%" stop-color="#b8ff00"/><stop offset="33.333%" stop-color="#a3ff00"/><stop offset="35.417%" stop-color="#a3ff00"/><stop offset="35.417%" stop-color="#8dff00"/><stop offset="37.500%" stop-color="#8dff00"/><stop offset="37.500%" stop-color="#77ff00"/><stop offset="39.583%" stop-color="#77ff00"/><stop offset="39.583%" stop-color="#62ff00"/><stop offset="41.667%" stop-color="#62ff00"/><stop offset="41.667%" stop-color="#4cff00"/><stop offset="43.750%" stop-color="#4cff00"/><stop offset="43.750%" stop-color="#36ff00"/><stop offset="45.833%" stop-color="#36ff00"/><stop offset="45.833%" stop-color="#21ff00"/><stop offset="47.917%" stop-color="#21ff00"/><stop offset="47.917%" stop-color="#0bff00"/><stop offset="50.000%" stop-color="#0bff00"/><stop offset="50.000%" stop-color="#00ff0b"/><stop offset="52.083%" stop-color="#00ff0b"/><stop offset="52.083%" stop-color="#00ff21"/><stop offset="54.167%" stop-color="#00ff21"/><stop offset="54.167%" stop-color="#00ff36"/><stop offset="56.250%" stop-color="#00ff36"/><stop offset="56.250%" stop-color="#00ff4c"/><stop offset="58.333%" stop-color="#00ff4c"/><stop offset="58.333%" stop-color="#00ff62"/><stop offset="60.417%" stop-color="#00ff62"/><stop offset="60.417%" stop-color="#00ff77"/><stop offset="62.500%" stop-color="#00ff77"/><stop offset="62.500%" stop-color="#00ff8d"/><stop offset="64.583%" stop-color="#00ff8d"/><stop offset="64.583%" stop-color="#00ffa3"/><stop offset="66.667%" stop-color="#00ffa3"/><stop offset="66.667%" stop-color="#00ffb8"/><stop offset="68.750%" stop-color="#00ffb8"/><stop offset="68.750%" stop-color="#00ffce"/><stop offset="70.833%" stop-color="#00ffce"/><stop offset="70.833%" stop-color="#00ffe4"/><stop offset="72.917%" stop-color="#00ffe4"/><stop offset="72.917%" stop-color="#00fffa"/><stop offset="75.000%" stop-color="#00fffa"/><stop offset="75.000%" stop-color="#00efff"/><stop offset="77.083%" stop-color="#00efff"/><stop offset="77.083%" stop-color="#00d9ff"/><stop offset="79.167%" stop-color="#00d9ff"/><stop offset="79.167%" stop-color="#00c3ff"/><stop offset="81.250%" stop-color="#00c3ff"/><stop offset="81.250%" stop-color="#00aeff"/><stop offset="83.333%" stop-color="#00aeff"/><stop offset="83.333%" stop-color="#0098ff"/><stop offset="85.417%" stop-color="#0098ff"/><stop offset="85.417%" stop-color="#0082ff"/><stop offset="87.500%" stop-color="#0082ff"/><stop offset="87.500%" stop-color="#006dff"/><stop offset="89.583%" stop-color="#006dff"/><stop offset="89.583%" stop-color="#0057ff"/><stop offset="91.667%" stop-color="#0057ff"/><stop offset="91.667%" stop-color="#0041ff"/><stop offset="93.750%" stop-color="#0041ff"/><stop offset="93.750%" stop-color="#002bff"/><stop offset="95.833%" stop-color="#002bff"/><stop offset="95.833%" stop-color="#0016ff"/><stop offset="97.917%" stop-color="#0016ff"/><stop offset="97.917%" stop-color="#0000ff"/><stop offset="100.000%" stop-color="#0000ff"/></linearGradient></defs>
<rect x="468.2" y="36" width="29.2" height="323.1" fill="url(#g29)"/>
<rect x="468.2" y="29.1" width="29.2" height="336.1" fill="none" stroke="#333" stroke-width="1"/>
<path d="M497.4,36h6M497.4,76.4h6M497.4,116.8h6M497.4,157.2h6M497.4,197.6h6M497.4,237.9h6M497.4,278.3h6M497.4,318.7h6M497.4,359.1h6" stroke="#333" stroke-width="1.3"/>
<g font-family="Liberation Serif" font-size="12.7" fill="#1a1a1a"><text x="508.3" y="40.3">0.04340</text><text x="508.3" y="80.7">0.03618</text><text x="508.3" y="121.1">0.02895</text><text x="508.3" y="161.5">0.02173</text><text x="508.3" y="201.9">0.01450</text><text x="508.3" y="242.2">0.007275</text><text x="508.3" y="282.6">5.000×10<tspan font-size="9" dy="-5.5">−5</tspan></text><text x="508.3" y="323">–0.00717</text><text x="508.3" y="363.4">–0.01440</text></g>
<text x="465.9" y="19.8" font-family="Liberation Serif" font-size="17.2" fill="#1a1a1a"><tspan font-style="italic">B</tspan>(T)</text>
<rect x="62.2" y="468.7" width="352.5" height="338.8" fill="#ff0000"/>
<path d="M62.2,468.7L414.7,468.7 414.7,807.7 64.6,807.7 62.2,806.2Z" fill="#ff1600"/>
<path d="M62.2,468.7L414.7,468.7 414.7,807.7 69.9,807.7 62.2,802.7Z" fill="#ff2b00"/>
<path d="M62.2,468.7L414.7,468.7 414.7,807.2 413.7,807.7 75.3,807.7 62.2,799.2Z" fill="#ff4100"/>
<path d="M62.2,468.7L414.7,468.7 414.7,803.9 408.1,807.7 81,807.7 62.2,795.6Z" fill="#ff5700"/>
<path d="M62.2,468.7L414.7,468.7 414.7,800.7 402.3,807.7 86.8,807.7 74.2,800.1 62.2,791.9Z" fill="#ff6d00"/>
<path d="M62.2,468.7L414.7,468.7 414.7,797.4 396.2,807.7 92.9,807.7 77.2,798.5 62.2,788.1Z" fill="#ff8200"/>
<path d="M62.2,470.8L64.6,468.7 414.7,468.7 414.7,794 402.3,801.2 389.9,807.7 99.3,807.7 80,796.7 62.2,784.3Z" fill="#ff9800"/>
<path d="M62.2,474.9L69.3,468.7 414.7,468.7 414.7,790.5 399.2,799.6 383.2,807.7 105.9,807.7 94.4,801.7 83.2,795.1 72.2,787.8 62.2,780.3Z" fill="#ffae00"/>
<path d="M62.2,479.1L74.1,468.7 414.7,468.7 414.7,787 396.2,797.9 376.3,807.7 112.9,807.7 99.2,800.9 86.2,793.3 74,785.2 62.2,776.3Z" fill="#ffc300"/>
<path d="M62.2,483.4L79,468.7 414.7,468.7 414.7,783.5 403.9,790.2 392.7,796.4 381.2,802.2 368.9,807.7 120.2,807.7 104.5,800.2 89.5,791.7 75.2,782.2 62.2,772.1Z" fill="#ffd900"/>
<path d="M62.2,487.8L72.7,478 84,468.7 414.7,468.7 414.7,779.8 402.2,787.7 388.7,795.2 375.2,801.7 361.1,807.7 128,807.7 111.2,800.1 94.8,791.2 79.7,781.5 65.7,770.8 62.2,767.8Z" fill="#ffef00"/>
<path d="M62.2,492.3L75.2,480.1 89.2,468.7 414.7,468.7 414.7,776.1 400.2,785.3 385,793.7 369.2,801.1 352.8,807.7 136.4,807.7 118.2,800 101.2,791.3 85.7,781.7 70.8,770.7 62.2,763.4Z" fill="#faff00"/>
<path d="M62.2,497L77.7,482.2 94.5,468.7 414.7,468.7 414.7,772.3 398.6,782.7 381.1,792.2 362.7,800.6 343.7,807.7 145.5,807.7 126.2,800.2 108.2,791.5 91.2,781.4 75.7,770.3 62.2,758.8Z" fill="#e4ff00"/>
<path d="M62.2,501.9L71.1,492.7 80.2,484.3 90,476.2 100,468.7 414.7,468.7 414.7,768.4 396.2,780.5 376.2,791.2 355.5,800.2 333.7,807.7 155.4,807.7 135.2,800.5 115.7,791.7 97.7,781.6 81,770.2 71.2,762.3 62.2,754.1Z" fill="#ceff00"/>
<path d="M62.2,506.9L71.8,496.7 82.5,486.7 93.7,477.5 105.7,468.7 414.7,468.7 414.7,764.5 404.2,771.7 393.7,778.3 382.7,784.4 371.2,790.1 359.2,795.4 347.2,800 334.7,804.2 322.5,807.7 166.7,807.7 144.7,800.7 124.2,792.2 114.2,787.3 104.7,782 95.4,776.2 86.7,770.2 74.1,760.2 62.2,749.1Z" fill="#b8ff00"/>
<path d="M62.2,512.2L73.2,500.1 85.2,488.8 98.2,478.2 111.6,468.7 414.7,468.7 414.7,760.4 403.2,768.5 391.2,776 378.7,782.9 365.6,789.2 352.2,794.8 338.2,799.8 323.7,804.2 309.3,807.7 179.9,807.7 167.7,804.7 156,801.2 144.5,797.2 133.2,792.7 122.4,787.7 111.9,782.2 101.7,776.2 92.2,769.9 76.6,757.7 69.2,751 62.2,744Z" fill="#a3ff00"/>
<path d="M62.2,517.7L74.2,504.1 87.7,491.2 102.2,479.4 117.7,468.7 414.7,468.7 414.7,756.2 401.7,765.5 387.8,774.2 373.2,782 358.2,788.9 342.2,795.1 326.2,800.2 309.7,804.4 292.6,807.7 196.6,807.7 188.7,806.3 176.2,803.5 164.2,800.3 152.2,796.5 140.7,792.2 129.2,787.2 118.7,782 108.2,776.1 98.1,769.7 88.3,762.7 79.1,755.2 70.4,747.2 62.2,738.6Z" fill="#8dff00"/>
<path d="M62.2,523.5L75.2,508.1 90.1,493.7 106.2,480.7 124.1,468.7 414,468.7 414.7,469.2 414.7,751.9 399.1,763.2 382.2,773.6 364.2,782.7 345.7,790.4 326.2,796.9 306.2,801.9 285.7,805.5 265.3,807.7 221.7,807.5 200.2,805 179.2,800.9 158.8,795.2 139.7,788.2 121.2,779.5 104.2,769.5 92.7,761.5 81.7,752.7 71.6,743.2 62.2,732.9Z" fill="#77ff00"/>
<path d="M62.2,529.6L69,520.7 76.3,512.2 84.2,504 92.5,496.2 101.4,488.7 110.7,481.7 120.7,474.9 130.7,468.7 407.3,468.7 414.7,473.6 414.7,747.4 399,759.2 382.2,769.7 364.7,778.8 346.2,786.7 326.7,793.3 306.7,798.5 286.2,802.2 265.2,804.5 244.2,805.2 223.2,804.4 202.7,802.1 182.7,798.3 163.2,793.1 144.7,786.5 127.2,778.6 110.3,769.2 96.7,760 83.9,749.7 72.4,738.7 62.2,727Z" fill="#62ff00"/>
<path d="M62.2,536L69.4,526.2 77.2,516.7 85.7,507.6 95.1,498.7 104.7,490.6 115.3,482.7 126.2,475.5 137.8,468.7 400.2,468.7 414.7,478.1 414.7,742.9 399.7,754.5 383.7,764.9 366.5,774.2 348.5,782.2 329.7,788.9 310.2,794.3 290.2,798.3 270.2,800.8 249.7,801.9 229.2,801.5 209.2,799.6 189.2,796.3 169.7,791.5 151.2,785.3 133.7,777.9 117.2,769.2 101.2,758.7 86.7,747.2 73.7,734.5 62.2,720.6Z" fill="#4cff00"/>
<path d="M62.2,543L69.7,532 78.3,521.2 87.7,510.9 97.7,501.3 108.5,492.2 120.1,483.7 132.2,476 145.2,468.7 392.8,468.7 404.2,475.6 414.7,482.9 414.7,738.1 400.2,749.7 384.7,760.2 368.2,769.5 350.7,777.6 332.7,784.4 313.7,790 294.2,794.2 274.7,797 254.7,798.4 234.7,798.4 214.7,796.9 195.2,794 176.2,789.7 158.2,784.1 140.8,777.2 124.2,769 114.7,763.4 105.7,757.4 97.2,751 89.2,744.3 81.7,737.2 74.6,729.7 68.2,722 62.2,713.8Z" fill="#36ff00"/>
<path d="M62.2,550.6L70,538.2 79,526.2 89.2,514.7 100.2,504 112.2,494 125.1,484.7 138.7,476.3 153.1,468.7 384.8,468.7 400.4,477.7 414.7,487.8 414.7,733.2 400.9,744.7 385.9,755.2 369.7,764.7 353.2,772.8 335.7,779.7 317.2,785.5 298.2,790 279.2,793.1 259.7,794.8 240.2,795.1 220.7,794.1 201.7,791.6 183.2,787.9 165.2,782.8 148.2,776.5 131.7,768.8 120.8,762.7 110.6,756.2 100.7,748.9 91.7,741.3 83.3,733.2 75.6,724.7 68.5,715.7 62.2,706.3Z" fill="#21ff00"/>
<path d="M62.2,558.9L70.2,545.1 79.7,531.6 90.7,518.7 102.7,506.9 116.1,495.7 130.2,485.8 145.4,476.7 161.5,468.7 376.3,468.7 386.7,474 396.3,479.7 405.7,486 414.7,492.9 414.7,728.1 401.3,739.7 387.2,750 372.2,759.2 355.7,767.7 338.7,774.9 321.2,780.8 303.2,785.4 284.7,788.8 265.7,791 246.7,791.7 227.7,791.1 209.2,789.2 190.7,786 173.2,781.5 156.1,775.7 139.9,768.7 127.4,762.2 115.7,755 104.7,747.1 94.2,738.2 84.7,728.9 76.3,719.2 68.7,708.7 62.2,698.1Z" fill="#0bff00"/>
<path d="M62.3,568.2L70.6,552.2 80.5,537.2 91.9,523.2 105.2,509.8 119.7,497.7 135.7,486.7 152.7,477 170.7,468.7 367.2,468.8 380.2,475 392.7,482.1 404.2,489.9 414.7,498.2 414.7,722.7 402.2,734 388.7,744.4 374.2,753.8 358.7,762.2 342.2,769.6 325.5,775.7 308.2,780.6 290.2,784.4 272.2,786.9 253.7,788.1 235.2,788 217.2,786.6 199.2,784 181.7,780.1 165.2,775.1 148.9,768.7 134.5,761.7 120.9,753.7 108.2,744.7 96.7,735 86.2,724.4 77,713.2 68.9,701.2 62.2,688.7Z" fill="#00ff0b"/>
<path d="M69.9,562.2L78.6,547.2 89.1,532.7 101.2,519.2 114.7,506.7 129.7,495.2 145.7,485.1 162.9,476.2 180.9,468.7 356.9,468.7 366.7,472.8 379.7,479.2 392.3,486.7 403.7,494.7 414.7,503.8 414.7,717.1 402.5,728.7 389.2,739.3 374.7,749.1 359.4,757.7 343.2,765.3 326.2,771.6 309,776.7 291.2,780.6 272.7,783.2 254.2,784.5 235.7,784.4 217.7,783 199.7,780.3 182.2,776.3 165.6,771.2 149.4,764.7 134.4,757.2 120.6,748.7 107.8,739.2 96.1,728.7 85.7,717.4 76.6,705.2 68.8,692.2 62.2,677.5 62.2,579.7 65.8,570.7Z" fill="#00ff21"/>
<path d="M79.5,553.7L88.9,539.7 100.1,526.2 112.7,513.8 126.2,502.6 141.2,492.3 157.3,483.2 174.7,475.2 192.4,468.7 345.3,468.7 356.2,472.7 367.2,477.5 380.3,484.2 392.7,491.9 404.2,500.4 414.7,509.7 414.7,711.2 402.7,723.2 389.5,734.2 375.2,744.2 359.8,753.2 343.7,761 326.7,767.5 309.2,772.8 291.2,776.8 272.7,779.5 254.2,780.8 235.7,780.7 217.2,779.2 199.2,776.4 181.7,772.3 164.7,766.7 148.7,760 133.7,752.2 119.8,743.2 107.1,733.2 95.7,722.2 85.5,710.2 77,697.7 70.1,684.7 64.5,670.7 62.2,662.9 62.2,594.4 65.2,584.2 69.2,573.7 73.9,563.7Z" fill="#00ff36"/>
<path d="M93.2,541.1L103.5,528.7 115,517.2 127.7,506.6 141.7,496.7 156.2,488.2 172.2,480.5 188.7,474 206,468.7 331.7,468.7 341.7,471.7 351.5,475.2 361.1,479.2 370.2,483.5 382.7,490.5 394.2,498.2 404.9,506.7 414.7,516 414.7,704.9 402.7,717.6 389.7,728.9 375.2,739.5 360,748.7 343.7,756.7 326.2,763.7 308.2,769.2 290.2,773.2 271.7,775.8 252.7,777.1 233.7,776.8 215.2,775.1 196.7,772 179.2,767.5 162.2,761.5 146,754.2 131.2,745.8 117.5,736.2 105.2,725.6 94.2,713.9 84.7,701.3 76.9,688.2 70.7,674.2 66.2,659.7 63.4,644.7 62.4,629.2 63.2,613.7 65.8,598.7 70.2,583.7 76.2,569 83.9,554.7Z" fill="#00ff4c"/>
<path d="M124.8,514.2L135.2,506.1 146.2,498.7 158.2,491.7 170.2,485.7 183.2,480.2 196.2,475.6 209.7,471.8 223.5,468.7 314.1,468.7 332.7,473.2 350.2,479.1 366.7,486.5 382,495.2 391.2,501.5 399.7,508.1 407.5,515.2 414.7,522.7 414.7,698.2 402.7,711.6 389.2,724 374.3,735.2 358,745.2 340.7,753.8 322.2,760.9 303.2,766.5 283.7,770.4 263.7,772.7 243.7,773.3 223.7,772.2 204.2,769.4 185.2,765 167.2,759.1 150.2,751.7 134.2,742.7 119.7,732.4 106.7,720.8 95.4,708.2 85.9,694.7 81.9,687.7 78.3,680.2 75.2,672.7 72.6,665.2 70.6,657.7 68.9,649.7 67.8,641.7 67.2,633.7 67.1,625.7 67.6,617.2 70,601.2 72,593.2 74.5,585.2 80.9,569.7 89.1,554.7 99.4,540.2 111.3,526.7Z" fill="#00ff62"/>
<path d="M343.7,481.2L354.2,485.4 364.7,490.3 374.4,495.7 383.7,501.6 392.2,507.9 400.2,514.7 407.9,522.2 414.7,530 414.7,690.9 407.7,699.7 399.7,708.5 392.8,715.2 385.7,721.4 370.2,733 353.2,743.2 335.2,751.7 316.2,758.7 296.2,764 275.7,767.5 255.2,769.2 234.7,769 214.2,767 194.2,763.2 175.2,757.6 166.2,754.2 157,750.2 148.2,745.8 140.2,741.3 132.3,736.2 125.2,731 118.1,725.2 111.5,719.2 102.2,709.2 94.2,698.7 87.4,687.7 81.8,676.2 77.4,664.2 74.2,651.7 72.5,639.2 72,626.2 72.9,613.2 75.1,600.2 78.6,587.7 83.4,575.2 89.4,563.2 96.8,551.2 105.2,540.1 115,529.2 125.6,519.2 136.8,510.2 149.2,501.7 162.2,494.2 176.2,487.5 190.7,481.7 205.7,477 220.7,473.3 236.2,470.6 252.2,469 283.7,468.8 299.2,470.4 314.7,473 329.7,476.7Z" fill="#00ff77"/>
<path d="M373.1,500.2L385.2,508.4 396.2,517.4 405.9,527.2 414.7,538 414.7,682.9 406,694.7 396.2,705.7 385.7,715.7 373.7,725.3 357.9,735.7 341.2,744.5 323.2,752 304.7,757.8 285.2,762 265.7,764.5 245.7,765.3 226.2,764.3 206.7,761.6 188.2,757.3 170.2,751.2 153.6,743.7 138.2,734.7 124,724.2 117.2,718.2 111.2,712.2 105.7,705.9 100.7,699.5 93.6,688.7 87.6,677.2 82.9,665.2 79.6,653.2 77.6,640.7 77,627.7 77.7,614.7 79.7,602.2 83.1,589.7 87.8,577.2 93.7,565.2 101.1,553.2 109.3,542.2 118.8,531.7 129.2,521.9 140.7,512.7 153.2,504.3 166.2,496.9 180.2,490.3 194.7,484.7 209.5,480.2 224.7,476.7 240.2,474.2 256.2,472.8 272.2,472.5 287.7,473.3 303.2,475.2 318.7,478.2 333.2,482.2 347.2,487.2 360.5,493.2Z" fill="#00ff8d"/>
<path d="M383.7,513.2L392.7,520.8 401.1,529.2 408.2,537.7 414.7,546.9 414.7,673.9 409.5,682.2 403.7,690.1 397.4,697.7 390.7,704.8 383.4,711.7 375.6,718.2 367.2,724.5 358.5,730.2 342.4,739.2 325.3,746.7 307.7,752.6 289.2,757.1 270.2,759.9 251.2,761.1 232.2,760.6 213.7,758.5 195.7,754.8 178.2,749.5 161.7,742.7 146.2,734.3 132.2,724.7 119.7,713.9 109,702.2 104.1,695.7 99.7,689.2 93.7,678.2 88.7,666.3 85.1,654.2 83,642.2 82.1,629.7 82.6,616.7 84.4,604.2 87.6,591.7 92,579.7 97.8,567.7 104.8,556.2 112.9,545.2 122.3,534.7 132.7,524.8 144.2,515.7 156,507.7 169.2,500.2 182.7,493.9 196.7,488.5 211.7,484 226.7,480.6 242.3,478.2 258.2,476.9 273.7,476.8 289.2,477.7 304.3,479.7 319.2,482.8 333.7,487 347.2,492.1 360.2,498.2 372.3,505.2Z" fill="#00ffa3"/>
<path d="M368.8,508.7L376.2,513.7 383.2,519.2 389.5,524.7 395.5,530.7 401.2,537.1 406.2,543.6 410.7,550.4 414.7,557.4 414.7,663.4 410.3,671.7 405.3,679.7 399.8,687.2 393.7,694.7 387.2,701.7 380.2,708.3 372.7,714.7 364.7,720.7 349.7,730.3 333.7,738.4 316.7,745.2 299.2,750.4 280.7,754.2 262.2,756.3 243.7,756.8 225.2,755.6 207.2,752.9 189.7,748.5 173.1,742.7 157.2,735.2 142.7,726.4 129.7,716.4 118.2,705.2 108.6,693.2 102.2,683.2 96.7,672.2 92.4,660.7 89.5,649.2 87.8,637.2 87.4,625.2 88.3,613.2 90.4,601.2 93.9,589.2 98.4,577.7 104.4,566.2 111.4,555.2 119.6,544.7 128.7,534.9 138.9,525.7 149.7,517.4 161.4,509.7 174.2,502.7 187.2,496.8 201,491.7 215.2,487.6 229.7,484.4 244.2,482.3 259.2,481.2 274.2,481.1 289.2,482.1 303.7,484.1 317.7,487.1 331.7,491.1 344.7,496.1 357.2,502Z" fill="#00ffb8"/>
<path d="M363.5,511.2L372.2,517.1 380.2,523.3 387.8,530.2 394.7,537.6 400.7,545.2 406.2,553.4 410.8,561.7 414.7,570.5 414.7,650.3 410.7,659.7 406.1,668.7 400.5,677.7 394.3,686.2 387.6,694.2 379.7,702.2 371.3,709.7 362.7,716.4 348.2,725.8 332.7,733.9 316.2,740.6 299.2,745.8 281.7,749.6 263.7,751.8 245.7,752.4 227.7,751.4 210.2,748.9 193.2,744.8 177,739.2 161.7,732.2 147.7,723.8 134.9,714.2 123.7,703.5 114,691.7 107.5,681.7 102.1,671.2 98,660.2 95.1,649.2 93.3,637.7 92.8,626.2 93.6,614.2 95.6,602.7 98.8,591.2 103,580.2 108.6,569.2 115.2,558.6 123.1,548.2 131.7,538.8 141.2,530 151.7,521.7 163,514.2 174.7,507.6 187.3,501.7 200.7,496.6 214.2,492.5 228.5,489.2 242.7,487 257.2,485.8 271.7,485.5 285.7,486.3 299.7,488 313.7,490.8 327.2,494.6 339.8,499.2 351.9,504.7Z" fill="#00ffce"/>
<path d="M366.3,519.2L373,524.2 379.5,529.7 385.6,535.7 391,541.7 396.1,548.2 400.5,554.7 404.2,561.2 407.7,568.4 411.9,579.7 414.7,591 414.7,629.7 411.7,642.2 407.2,654.5 401.4,666.2 394.2,677.7 385.7,688.6 376.2,698.7 365.4,708.2 353.8,716.7 339.6,725.2 324.2,732.5 308.2,738.5 291.7,742.9 274.7,746 257.2,747.6 239.7,747.6 222.7,746.2 206.1,743.2 189.7,738.7 174.7,732.9 160.3,725.7 147.2,717.3 135.4,707.7 125.2,697.2 116.5,685.7 110.5,675.7 105.7,665.2 102.2,654.7 99.8,643.7 98.6,632.7 98.6,621.2 99.9,609.7 102.2,598.7 105.8,587.7 110.6,576.7 116.5,566.2 123.3,556.2 131.2,546.7 140.2,537.6 149.9,529.2 160.7,521.4 172.2,514.4 184.2,508.2 196.7,503 209.7,498.5 223.2,495 237.2,492.4 251.2,490.8 265.2,490.1 279.2,490.5 293.2,491.8 306.7,494.1 319.7,497.4 332.2,501.5 344.2,506.5 355.7,512.5Z" fill="#00ffe4"/>
<path d="M350.7,515.7L363.7,524 375.1,533.2 385.2,543.6 393.6,554.7 400.5,566.7 405.6,579.2 408.9,592.2 410.5,605.7 410.2,619.7 408.1,633.2 404.2,646.8 398.4,660.2 391.1,672.7 382.1,684.7 371.7,695.8 359.7,706.2 346.7,715.3 332.7,723.3 317.7,730 301.7,735.5 285.2,739.5 268.7,742 251.7,743 235.2,742.6 218.7,740.7 202.2,737.2 186.7,732.4 172.2,726.2 158.7,718.7 146.7,710.2 135.7,700.4 126.3,689.7 120,680.7 114.7,671.2 110.4,661.2 107.2,650.7 105.2,640.2 104.3,629.7 104.6,618.7 106,608.2 108.6,597.2 112.2,586.8 116.8,576.7 122.6,566.7 129.3,557.2 137,548.2 145.5,539.7 155,531.7 165.2,524.4 176.2,517.8 187.7,512 199.7,507 212.2,502.8 224.7,499.6 237.7,497.1 251.2,495.6 264.7,494.9 277.7,495.2 290.7,496.4 303.7,498.5 316.2,501.6 328.2,505.4 339.7,510.1Z" fill="#00fffa"/>
<path d="M345.8,519.2L358.2,526.9 369.3,535.7 379.2,545.6 387.4,556.2 394.2,567.7 399.3,579.7 402.7,592.7 404.4,605.7 404.2,618.8 402.2,632.2 398.5,645.2 393.2,657.7 386.2,669.9 377.7,681.4 367.7,692.2 356.3,702.2 343.7,711.1 330.2,718.8 315.7,725.4 300.7,730.6 285.2,734.4 269.2,737 252.7,738.1 236.7,737.7 220.7,735.9 205.2,732.7 190.4,728.2 176.7,722.5 163.7,715.4 151.9,707.2 141.2,697.8 132.1,687.7 126.1,679.2 120.7,669.8 116.5,660.2 113.5,650.7 111.4,640.7 110.4,630.2 110.6,619.7 111.8,609.7 114.2,599.2 117.5,589.2 122,579.2 127.4,569.7 133.7,560.6 141.2,551.7 149.2,543.6 158.2,535.9 167.7,529 178.2,522.6 189.2,516.9 200.7,512 212.7,507.9 224.7,504.7 237.2,502.2 250.2,500.6 263.2,499.9 275.7,500.1 288.2,501.2 300.7,503.2 312.7,506 324.2,509.6 335.2,514Z" fill="#00efff"/>
<path d="M350.7,528.8L361.7,537 371.5,546.2 379.8,556.2 386.5,566.7 391.7,577.7 395.5,589.7 397.6,601.7 398.1,614.2 396.9,626.7 394,639.2 389.6,651.2 383.4,663.2 375.7,674.7 366.7,685.2 356.7,694.7 345.1,703.7 332.7,711.5 319.3,718.2 305.2,723.7 290.7,727.9 275.7,730.9 260.2,732.6 244.7,732.9 229.7,731.9 214.7,729.5 200.2,725.8 186.7,720.9 173.7,714.7 162.2,707.6 151.4,699.2 141.7,689.7 133.8,679.7 128.5,671.2 124.1,662.2 120.6,652.7 118.3,643.2 117,633.7 116.7,623.7 117.5,613.7 119.4,603.7 122.4,593.7 126.3,584.2 131.3,574.7 137.2,565.7 143.9,557.2 151.5,549.2 159.8,541.7 169.2,534.6 179.2,528.2 189.7,522.5 200.7,517.6 212.2,513.5 224.2,510.1 236.2,507.6 248.2,506 260.7,505.2 273.2,505.2 285.2,506.1 297.2,507.9 308.7,510.5 320.2,513.9 331,518.2 341.2,523.2Z" fill="#00d9ff"/>
<path d="M342.2,530.6L353.2,538.1 362.7,546.3 371.2,555.6 378.2,565.4 383.9,576.2 387.9,587.2 390.5,598.7 391.5,610.7 390.8,622.7 388.5,634.7 384.8,646.2 379.4,657.7 372.5,668.7 364.2,679.2 354.8,688.7 344.2,697.4 332.7,705 320.2,711.7 307.2,717.2 293.2,721.7 278.7,725 264.2,726.9 249.2,727.6 234.7,726.9 220.2,725 206.2,721.7 192.8,717.2 180.6,711.7 169.2,705.1 158.5,697.2 149.2,688.5 141.2,679 136,671.2 131.5,662.7 127.9,653.7 125.4,644.7 123.9,635.7 123.4,626.2 123.8,616.7 125.3,607.2 127.8,597.7 131.2,588.7 135.6,579.7 140.8,571.2 147.2,562.7 154.2,554.8 161.8,547.7 170.5,540.7 179.7,534.5 189.2,529 199.3,524.2 210.2,519.9 221.2,516.5 232.7,513.8 244.2,511.9 255.7,510.8 267.7,510.5 279.2,511.1 290.7,512.4 301.7,514.5 312.7,517.5 323.2,521.2 333.2,525.7Z" fill="#00c3ff"/>
<path d="M322.7,527.6L334.2,533.2 345.2,540.2 354.7,547.8 363.2,556.5 370.5,566.2 376.2,576.2 380.4,586.7 383.2,597.7 384.4,609.2 384,620.7 382.1,632.2 378.7,643.2 373.8,654.2 367.5,664.7 359.8,674.7 350.7,684.1 340.4,692.7 329.3,700.2 317.3,706.7 304.7,712.1 291.7,716.3 277.7,719.4 263.7,721.3 249.7,721.9 235.7,721.3 222.2,719.5 208.7,716.3 196.2,712.1 184.2,706.7 173.2,700.2 163.1,692.7 154.2,684.2 148.3,677.2 143.1,669.7 138.7,661.7 135.3,653.7 132.7,645.2 131.1,636.7 130.4,628.2 130.6,619.2 131.7,610.3 133.7,601.7 136.6,593.2 140.4,584.7 145,576.7 150.5,568.7 156.8,561.2 163.7,554.2 171.3,547.7 179.5,541.7 188.3,536.2 197.7,531.3 207.2,527.2 217.7,523.5 228.2,520.6 238.7,518.5 249.7,517 260.7,516.3 271.7,516.4 282.2,517.1 292.7,518.7 303.2,521 313.2,523.9Z" fill="#00aeff"/>
<path d="M319.4,533.2L330.5,538.7 340.6,545.2 349.7,552.6 357.4,560.7 364.1,569.7 369.5,579.2 373.4,589.2 375.9,599.7 377,610.2 376.6,621.2 374.6,632.2 371.3,642.7 366.7,652.7 360.6,662.7 353.2,672.1 344.8,680.7 335.2,688.7 324.7,695.7 313.5,701.7 301.7,706.7 289.2,710.7 276.2,713.6 263.2,715.3 249.7,715.9 236.2,715.3 223.2,713.4 210.7,710.4 198.7,706.3 187.7,701.2 177.2,694.9 167.8,687.7 159.7,679.9 154.2,673.2 149.4,666.2 145.3,658.7 142.2,651.2 139.9,643.2 138.4,635.2 137.8,627.2 138,618.7 139.1,610.2 141.1,602.2 143.8,594.2 147.5,586.2 151.8,578.7 157.1,571.2 163.1,564.2 169.7,557.6 176.7,551.6 184.7,545.8 193.1,540.7 201.8,536.2 211.2,532.2 220.7,528.9 230.7,526.2 240.7,524.2 250.7,522.9 261.2,522.3 271.2,522.4 281.5,523.2 291.4,524.7 301.2,526.9 310.4,529.7Z" fill="#0098ff"/>
<path d="M337.8,552.2L345.7,559.1 352.5,566.7 358.2,574.8 362.9,583.7 366.3,593.2 368.4,602.7 369.1,612.2 368.6,622.2 366.7,632.2 363.6,641.7 359.2,651 353.7,659.9 347.2,668.3 339.5,676.2 330.7,683.6 321.2,690 310.9,695.7 300.2,700.4 288.7,704.2 276.7,707.1 264.7,708.8 252.7,709.5 240.7,709.2 228.7,707.8 217.2,705.3 206.2,701.9 195.7,697.5 186.1,692.2 177.2,686 169.4,679.2 162.6,671.7 156.6,663.2 152.8,656.2 149.7,648.7 147.5,641.2 146.1,633.2 145.6,625.2 146,617.2 147.3,609.2 149.2,601.7 152.2,593.7 156,586.2 160.6,578.7 165.7,572 171.7,565.3 178.3,559.2 185.7,553.3 193.4,548.2 201.7,543.6 210.7,539.4 219.7,536 229.1,533.2 238.7,531.1 248.7,529.6 258.7,528.8 268.2,528.7 278.2,529.4 287.7,530.7 297.2,532.7 306.2,535.4 314.8,538.7 323.2,542.7 330.8,547.2Z" fill="#0082ff"/>
<path d="M325.7,553L333.7,559 340.9,565.7 346.8,572.7 352,580.7 356,589.2 358.7,597.7 360.2,606.7 360.6,615.7 359.6,625.2 357.5,634.2 354.1,643.2 349.7,651.7 344.2,659.8 337.4,667.7 330,674.7 321.7,681.1 312.7,686.8 302.7,691.8 292.7,695.7 281.7,699 270.7,701.1 259.2,702.4 247.7,702.6 236.7,701.8 225.7,700.1 215.2,697.3 205.2,693.7 195.9,689.2 187.2,683.8 179.4,677.7 172.7,671.1 166.7,663.6 162.7,657.2 159.5,650.7 157,643.7 155.3,636.7 154.3,629.7 154.2,622.2 154.7,615.2 156.2,607.7 158.3,600.7 161.1,593.7 164.8,586.7 169.1,580.2 174.2,573.8 179.7,568 186.2,562.2 192.8,557.2 199.9,552.7 207.7,548.5 215.7,544.9 224.2,541.8 232.7,539.4 241.7,537.5 250.7,536.3 259.7,535.7 268.7,535.7 277.7,536.4 286.7,537.7 295.2,539.6 303.6,542.2 311.2,545.2 318.7,548.9Z" fill="#006dff"/>
<path d="M321.7,560.5L328.7,566 334.9,572.2 340.2,579 344.5,586.2 347.8,593.7 350,601.7 351.1,609.7 351.2,618.2 350,626.7 347.9,634.7 344.7,642.7 340.5,650.2 335.2,657.7 328.9,664.7 321.7,671.2 314.2,676.7 305.7,681.8 296.7,686.1 287.2,689.6 277.2,692.3 267.2,694.1 256.7,695 246.7,695.1 236.7,694.2 226.7,692.4 217.2,689.8 208.2,686.3 200.1,682.2 192.3,677.2 185.2,671.4 179.2,665.2 173.9,658.2 170.3,652.2 167.6,646.2 165.5,639.7 164.1,633.2 163.4,626.7 163.5,620.2 164.2,613.7 165.8,606.7 168,600.2 170.9,593.7 174.3,587.7 178.5,581.7 183.2,576.2 188.7,570.7 194.7,565.7 200.7,561.4 207.7,557.2 214.6,553.7 221.8,550.7 229.7,548 237.7,545.9 245.7,544.5 253.7,543.5 262.2,543.2 270.7,543.4 278.7,544.2 286.7,545.6 294.2,547.5 301.7,550 308.7,553 315.2,556.4Z" fill="#0057ff"/>
<path d="M306.7,562.1L313.7,566.3 320.2,571.3 325.7,576.7 330.7,582.8 334.6,589.2 337.7,596.2 339.7,603.2 340.8,610.7 340.9,618.2 339.9,625.7 337.9,633.2 335,640.2 331.1,647.2 326.2,654 320.6,660.2 314.2,665.9 307.2,670.9 299.7,675.3 291.3,679.2 282.7,682.3 273.7,684.6 264.7,686.1 255.2,686.8 246.2,686.7 237.2,685.7 228.2,683.9 219.7,681.4 211.9,678.2 204.5,674.2 197.7,669.6 191.5,664.2 186.2,658.3 182.7,653.5 179.7,648.2 177.2,642.7 175.5,637.2 174.3,631.7 173.7,625.7 173.8,620.2 174.4,614.2 175.7,608.4 177.6,602.7 180,597.2 183.1,591.7 186.5,586.7 190.6,581.7 195.2,577 200.2,572.6 205.7,568.6 211.7,564.8 224.2,558.8 237.7,554.5 244.7,553 252.2,552 259.7,551.5 266.7,551.6 280.7,553.1 287.7,554.7 294.2,556.6 300.7,559.2Z" fill="#0041ff"/>
<path d="M300.2,570.4L306.4,574.2 312.1,578.7 316.7,583.3 320.9,588.7 324.1,594.2 326.7,600.2 328.3,606.2 329.2,612.7 329.1,619.2 328.1,625.7 326.3,632.2 323.7,638.1 320.2,644.2 316.1,649.7 311.2,654.9 305.7,659.7 299.3,664.2 292.7,668 285.7,671.1 278.2,673.7 270.7,675.6 262.7,676.8 254.7,677.3 247.2,677.2 239.2,676.3 231.7,674.7 224.7,672.6 217.8,669.7 211.4,666.2 205.7,662.2 200.5,657.7 196.1,652.7 193.2,648.7 190.6,644.2 188.6,639.7 186.9,634.7 185.9,629.7 185.4,624.7 185.5,619.7 186.1,614.7 187.2,609.7 188.9,604.7 193.7,595.3 200.3,586.7 208.7,578.8 218.6,572.2 229.7,567 241.7,563.3 253.7,561.4 266.2,561.1 278.2,562.6 289.7,565.7Z" fill="#002bff"/>
<path d="M286.7,577.5L292.2,580.2 297,583.2 301.4,586.7 305.3,590.7 308.7,595.2 311.3,599.7 313.3,604.7 314.6,609.7 315.1,614.7 314.9,620.2 314.1,625.2 312.5,630.2 310.3,635.2 307.2,640.2 303.7,644.7 299.8,648.7 295.2,652.6 290.2,655.9 284.7,658.9 278.7,661.5 272.7,663.4 266.7,664.8 260.2,665.7 253.7,666 247.2,665.7 241.2,664.8 235.2,663.5 229.2,661.4 223.7,658.9 218.7,655.9 214.2,652.5 210.2,648.7 205.2,642.1 201.6,634.7 199.8,627.2 199.6,619.2 201.1,611.2 204,603.7 208.7,596.4 214.7,589.8 221.7,584.2 230.2,579.4 239.2,575.8 248.7,573.5 258.7,572.5 268.2,572.8 277.7,574.5Z" fill="#0016ff"/>
<path d="M256.7,587.9L264.7,588 272.7,589.6 279.7,592.4 285.7,596.3 290.7,601.4 294.1,607.2 296,613.7 296.1,620.2 294.5,626.7 291,633.2 286.3,638.7 280.2,643.5 273,647.2 265.2,649.6 257.2,650.7 249.2,650.4 242.7,649.1 236.2,646.7 230.2,643.2 225.7,639.2 222.2,634.6 219.6,629.2 218.5,623.7 218.5,618.2 219.8,612.7 222.3,607.2 225.9,602.2 230.7,597.6 236.5,593.7 242.7,590.8 249.7,588.8Z" fill="#0000ff"/>
<path d="M325.9,553.2L319.2,549.1 311.7,545.4 303.7,542.2 295.5,539.7 286.7,537.7 278.2,536.4 269.2,535.7 260.2,535.7 251.2,536.2 242.2,537.4 233.2,539.3 224.7,541.7 216.2,544.7 208.2,548.2 200.7,552.2 193.2,556.9 186.2,562.2 180.2,567.5 174.7,573.2 169.5,579.7 165.1,586.2 161.4,593.2 158.4,600.2 156.3,607.2 154.9,614.2 154.2,621.7 154.3,629.2 155.2,636.2 156.8,643.2 159.3,650.2 162.4,656.7 166.4,663.2 172.3,670.7 179.2,677.6 187,683.7 195.7,689.1 205.2,693.7 214.8,697.2 225.2,700 236.2,701.8 247.2,702.6 258.7,702.4 269.7,701.3 280.7,699.2 291.3,696.2 301.8,692.2 311.9,687.2 321.2,681.5 329.7,675 337.4,667.7 344.2,659.8 349.7,651.7 354.1,643.2 357.5,634.2 359.6,625.2 360.5,616.2 360.3,607.2 358.8,598.2 356.2,589.7 352.2,581.1 347.2,573.3 341.2,566 334,559.2ZM346.7,519.7L335.7,514.2 324.7,509.7 313.2,506.1 301.2,503.3 288.7,501.2 276.2,500.1 263.7,499.9 250.7,500.6 237.7,502.1 225.2,504.5 213.2,507.7 201.2,511.8 189.7,516.7 178.7,522.3 168.2,528.7 158.7,535.5 149.7,543.1 141.6,551.2 134.2,560 127.7,569.2 122.3,578.7 117.7,588.7 114.3,598.7 111.9,609.2 110.6,619.2 110.4,629.7 111.4,640.2 113.4,650.2 116.5,660.2 120.6,669.7 125.7,678.7 131.7,687.1 140.7,697.3 151.3,706.7 163.2,715.1 176.2,722.2 190.2,728.1 205,732.7 220.2,735.9 236.2,737.7 252.2,738.1 268.7,737 284.7,734.5 300.2,730.7 315.2,725.6 329.7,719.1 343.2,711.5 355.7,702.7 367.2,692.7 377.2,682 385.7,670.7 393,658.2 398.3,645.7 402.1,632.7 404.2,619.2 404.4,606.2 402.8,593.2 399.6,580.7 394.4,568.2 387.8,556.7 379.7,546.2 369.9,536.2 358.7,527.3ZM414.7,538L406.8,528.2 398.1,519.2 388.2,510.7 377.7,503.1 366.2,496.2 353.7,490 340.7,484.7 327.2,480.4 313.2,477 298.7,474.5 284.2,473 269.2,472.5 254.2,472.9 239.2,474.4 224.2,476.8 209.7,480.2 195.7,484.4 181.7,489.7 168.7,495.6 156.2,502.5 144.2,510.2 133.2,518.5 122.8,527.7 113.7,537.1 105.2,547.5 97.8,558.2 91.6,569.2 86.3,580.7 82.3,592.2 79.3,604.2 77.5,616.2 77,628.2 77.6,640.2 79.4,652.2 82.4,663.7 86.7,675.2 92.1,686.2 98.7,696.7 106.2,706.5 114.7,715.7 124,724.2 134.5,732.2 145.7,739.3 157.7,745.7 170.2,751.2 183.7,755.9 197.7,759.7 211.7,762.5 226.2,764.3 241.2,765.2 255.7,765.1 270.7,764 285.7,761.9 300.2,758.9 314.2,755 328.2,750.1 341.7,744.3 354.2,737.8 366.2,730.5 377.8,722.2 388.5,713.2 398.1,703.7 406.8,693.7 414.7,682.9M170.7,468.7L152.4,477.2 135.2,487 119.2,498.1 104.8,510.2 91.7,523.4 80.1,537.7 70.3,552.7 62.2,568.4M414.7,498.2L404.2,489.9 392.7,482.1 380.2,475 367.1,468.7M62.2,688.7L67.2,698.3 73.2,707.9 80.1,717.2 87.4,725.7 95.3,733.7 104.2,741.6 113.7,748.8 123.7,755.5 134.5,761.7 145.6,767.2 157.2,772.1 169.2,776.4 181.7,780.1 194.2,783 207.2,785.3 220.7,787 234.2,787.9 247.7,788.2 261.2,787.7 274.7,786.6 288.2,784.7 301.4,782.2 314.2,779.1 327.2,775.2 339.7,770.6 351.7,765.6 363.7,759.7 374.7,753.5 385.4,746.7 395.8,739.2 405.5,731.2 414.7,722.7M124.1,468.7L106.2,480.7 90.1,493.7 75.2,508.1 62.2,523.5M414.7,469.2L414.2,468.8 414,468.7M62.2,732.9L69.2,740.7 76.7,748.2 84.7,755.2 93.2,761.9 102.2,768.2 111.7,774.2 121.6,779.7 131.7,784.6 142.2,789.2 153.2,793.3 164.7,797 176.2,800.2 187.7,802.8 199.7,804.9 211.7,806.6 224,807.7M265.3,807.7L285.7,805.5 306.2,801.9 326.2,796.9 345.7,790.4 364.2,782.7 382.2,773.6 399.1,763.2 414.7,751.9M89.2,468.7L75.2,480.1 62.2,492.3M62.2,763.4L70.2,770.2 78.6,776.7 96.2,788.3 105.7,793.7 115.7,798.8 136.4,807.7M352.8,807.7L369.2,801.1 385,793.7 400.2,785.3 414.7,776.1M62.2,788.1L77.2,798.5 92.9,807.7M396.2,807.7L414.7,797.4" fill="none" stroke="#606060" stroke-opacity="0.45" stroke-width="1"/>
<rect x="62.2" y="468.7" width="352.5" height="338.8" fill="none" stroke="#1a1a1a" stroke-width="1.6"/><path d="M78.3,807.5v4.2M105.1,807.5v7.4M131.8,807.5v4.2M158.6,807.5v7.4M185.3,807.5v4.2M212.1,807.5v7.4M238.8,807.5v4.2M265.6,807.5v7.4M292.4,807.5v4.2M319.1,807.5v7.4M345.9,807.5v4.2M372.6,807.5v7.4M399.4,807.5v4.2M62.2,791h-4.2M62.2,769.2h-7.4M62.2,747.4h-4.2M62.2,725.6h-7.4M62.2,703.8h-4.2M62.2,682h-7.4M62.2,660.2h-4.2M62.2,638.4h-7.4M62.2,616.6h-4.2M62.2,594.8h-7.4M62.2,573h-4.2M62.2,551.2h-7.4M62.2,529.4h-4.2M62.2,507.6h-7.4M62.2,485.8h-4.2" stroke="#1a1a1a" stroke-width="1.4" fill="none"/><g font-family="Liberation Serif" font-size="15.5" fill="#1a1a1a"><text x="105.1" y="831.3" text-anchor="middle">0.5</text><text x="158.6" y="831.3" text-anchor="middle">1.0</text><text x="212.1" y="831.3" text-anchor="middle">1.5</text><text x="265.6" y="831.3" text-anchor="middle">2.0</text><text x="319.1" y="831.3" text-anchor="middle">2.5</text><text x="372.6" y="831.3" text-anchor="middle">3.0</text><text x="50.3" y="774.3" text-anchor="end">1</text><text x="50.3" y="730.7" text-anchor="end">2</text><text x="50.3" y="687.1" text-anchor="end">3</text><text x="50.3" y="643.5" text-anchor="end">4</text><text x="50.3" y="599.9" text-anchor="end">5</text><text x="50.3" y="556.3" text-anchor="end">6</text><text x="50.3" y="512.7" text-anchor="end">7</text></g><text x="216.8" y="860.4" font-family="Liberation Serif" font-size="18" fill="#1a1a1a"><tspan font-style="italic">X</tspan><tspan font-style="italic" font-size="11" dy="4.5">2</tspan><tspan dy="-4.5">(m)</tspan></text><text transform="translate(23,637.5) rotate(-90)" text-anchor="middle" font-family="Liberation Serif" font-size="18" fill="#1a1a1a"><tspan font-style="italic">Y</tspan><tspan font-style="italic" font-size="11" dy="4.5">2</tspan><tspan dy="-4.5">(m)</tspan></text><text x="278.1" y="886.3" font-family="Liberation Serif" font-size="19" fill="#1a1a1a">(<tspan font-weight="bold">b</tspan>)</text>
<rect x="472.2" y="469.2" width="28" height="7" fill="#808080"/>
<rect x="472.2" y="801.7" width="28" height="6.5" fill="#000"/>
<defs><linearGradient id="g469" x1="0" y1="0" x2="0" y2="1"><stop offset="0.000%" stop-color="#ff0000"/><stop offset="2.083%" stop-color="#ff0000"/><stop offset="2.083%" stop-color="#ff1600"/><stop offset="4.167%" stop-color="#ff1600"/><stop offset="4.167%" stop-color="#ff2b00"/><stop offset="6.250%" stop-color="#ff2b00"/><stop offset="6.250%" stop-color="#ff4100"/><stop offset="8.333%" stop-color="#ff4100"/><stop offset="8.333%" stop-color="#ff5700"/><stop offset="10.417%" stop-color="#ff5700"/><stop offset="10.417%" stop-color="#ff6d00"/><stop offset="12.500%" stop-color="#ff6d00"/><stop offset="12.500%" stop-color="#ff8200"/><stop offset="14.583%" stop-color="#ff8200"/><stop offset="14.583%" stop-color="#ff9800"/><stop offset="16.667%" stop-color="#ff9800"/><stop offset="16.667%" stop-color="#ffae00"/><stop offset="18.750%" stop-color="#ffae00"/><stop offset="18.750%" stop-color="#ffc300"/><stop offset="20.833%" stop-color="#ffc300"/><stop offset="20.833%" stop-color="#ffd900"/><stop offset="22.917%" stop-color="#ffd900"/><stop offset="22.917%" stop-color="#ffef00"/><stop offset="25.000%" stop-color="#ffef00"/><stop offset="25.000%" stop-color="#faff00"/><stop offset="27.083%" stop-color="#faff00"/><stop offset="27.083%" stop-color="#e4ff00"/><stop offset="29.167%" stop-color="#e4ff00"/><stop offset="29.167%" stop-color="#ceff00"/><stop offset="31.250%" stop-color="#ceff00"/><stop offset="31.250%" stop-color="#b8ff00"/><stop offset="33.333%" stop-color="#b8ff00"/><stop offset="33.333%" stop-color="#a3ff00"/><stop offset="35.417%" stop-color="#a3ff00"/><stop offset="35.417%" stop-color="#8dff00"/><stop offset="37.500%" stop-color="#8dff00"/><stop offset="37.500%" stop-color="#77ff00"/><stop offset="39.583%" stop-color="#77ff00"/><stop offset="39.583%" stop-color="#62ff00"/><stop offset="41.667%" stop-color="#62ff00"/><stop offset="41.667%" stop-color="#4cff00"/><stop offset="43.750%" stop-color="#4cff00"/><stop offset="43.750%" stop-color="#36ff00"/><stop offset="45.833%" stop-color="#36ff00"/><stop offset="45.833%" stop-color="#21ff00"/><stop offset="47.917%" stop-color="#21ff00"/><stop offset="47.917%" stop-color="#0bff00"/><stop offset="50.000%" stop-color="#0bff00"/><stop offset="50.000%" stop-color="#00ff0b"/><stop offset="52.083%" stop-color="#00ff0b"/><stop offset="52.083%" stop-color="#00ff21"/><stop offset="54.167%" stop-color="#00ff21"/><stop offset="54.167%" stop-color="#00ff36"/><stop offset="56.250%" stop-color="#00ff36"/><stop offset="56.250%" stop-color="#00ff4c"/><stop offset="58.333%" stop-color="#00ff4c"/><stop offset="58.333%" stop-color="#00ff62"/><stop offset="60.417%" stop-color="#00ff62"/><stop offset="60.417%" stop-color="#00ff77"/><stop offset="62.500%" stop-color="#00ff77"/><stop offset="62.500%" stop-color="#00ff8d"/><stop offset="64.583%" stop-color="#00ff8d"/><stop offset="64.583%" stop-color="#00ffa3"/><stop offset="66.667%" stop-color="#00ffa3"/><stop offset="66.667%" stop-color="#00ffb8"/><stop offset="68.750%" stop-color="#00ffb8"/><stop offset="68.750%" stop-color="#00ffce"/><stop offset="70.833%" stop-color="#00ffce"/><stop offset="70.833%" stop-color="#00ffe4"/><stop offset="72.917%" stop-color="#00ffe4"/><stop offset="72.917%" stop-color="#00fffa"/><stop offset="75.000%" stop-color="#00fffa"/><stop offset="75.000%" stop-color="#00efff"/><stop offset="77.083%" stop-color="#00efff"/><stop offset="77.083%" stop-color="#00d9ff"/><stop offset="79.167%" stop-color="#00d9ff"/><stop offset="79.167%" stop-color="#00c3ff"/><stop offset="81.250%" stop-color="#00c3ff"/><stop offset="81.250%" stop-color="#00aeff"/><stop offset="83.333%" stop-color="#00aeff"/><stop offset="83.333%" stop-color="#0098ff"/><stop offset="85.417%" stop-color="#0098ff"/><stop offset="85.417%" stop-color="#0082ff"/><stop offset="87.500%" stop-color="#0082ff"/><stop offset="87.500%" stop-color="#006dff"/><stop offset="89.583%" stop-color="#006dff"/><stop offset="89.583%" stop-color="#0057ff"/><stop offset="91.667%" stop-color="#0057ff"/><stop offset="91.667%" stop-color="#0041ff"/><stop offset="93.750%" stop-color="#0041ff"/><stop offset="93.750%" stop-color="#002bff"/><stop offset="95.833%" stop-color="#002bff"/><stop offset="95.833%" stop-color="#0016ff"/><stop offset="97.917%" stop-color="#0016ff"/><stop offset="97.917%" stop-color="#0000ff"/><stop offset="100.000%" stop-color="#0000ff"/></linearGradient></defs>
<rect x="472.2" y="476.2" width="28" height="325.5" fill="url(#g469)"/>
<rect x="472.2" y="469.2" width="28" height="339" fill="none" stroke="#333" stroke-width="1"/>
<path d="M500.2,476.2h6M500.2,516.9h6M500.2,557.6h6M500.2,598.3h6M500.2,639h6M500.2,679.6h6M500.2,720.3h6M500.2,761h6M500.2,801.7h6" stroke="#333" stroke-width="1.3"/>
<g font-family="Liberation Serif" font-size="12.7" fill="#1a1a1a"><text x="511.8" y="480.5">0.01135</text><text x="511.8" y="521.2">0.009594</text><text x="511.8" y="561.9">0.007838</text><text x="511.8" y="602.6">0.006081</text><text x="511.8" y="643.2">0.004325</text><text x="511.8" y="683.9">0.002569</text><text x="511.8" y="724.6">8.125×10<tspan font-size="9" dy="-5.5">−4</tspan></text><text x="511.8" y="765.3">–9.438×10<tspan font-size="9" dy="-5.5">−4</tspan></text><text x="511.8" y="806">–0.00270</text></g>
<text x="468.7" y="462.2" font-family="Liberation Serif" font-size="17.2" fill="#1a1a1a"><tspan font-style="italic">B</tspan>(T)</text>
<rect x="65.5" y="916.1" width="351.9" height="337.1" fill="#ff0000"/>
<path d="M65.5,916.1L417.5,916.1 417.5,1253.2 71.9,1253.2 65.5,1251.6Z" fill="#ff1600"/>
<path d="M65.5,916.1L417.5,916.1 417.5,1253.2 81.8,1253.2 65.5,1249.1Z" fill="#ff2b00"/>
<path d="M65.5,916.1L417.5,916.1 417.5,1253.2 92.1,1253.2 65.5,1246.7Z" fill="#ff4100"/>
<path d="M65.5,916.1L417.5,916.1 417.5,1253.2 103.1,1253.2 65.5,1244.1Z" fill="#ff5700"/>
<path d="M65.5,916.1L417.5,916.1 417.5,1253.2 114.7,1253.2 89.5,1247.7 65.5,1241.6Z" fill="#ff6d00"/>
<path d="M65.5,916.1L417.5,916.1 417.5,1253.2 127.2,1253.2 95.5,1246.6 65.5,1239Z" fill="#ff8200"/>
<path d="M65.5,916.1L417.5,916.1 417.5,1253.2 140.6,1253.2 102,1245.5 65.5,1236.4Z" fill="#ff9800"/>
<path d="M65.5,916.1L417.5,916.1 417.5,1253.2 155.3,1253.2 132,1249.2 109.3,1244.6 87,1239.4 65.5,1233.7Z" fill="#ffae00"/>
<path d="M65.5,916.1L417.5,916.1 417.5,1251.3 406.2,1253.2 171.8,1253.2 144,1248.8 117,1243.7 90.5,1237.7 65.5,1231Z" fill="#ffc300"/>
<path d="M65.5,916.1L417.5,916.1 417.5,1248.7 388.7,1253.2 190.8,1253.2 158,1248.7 126,1243 95,1236.1 65.5,1228.2Z" fill="#ffd900"/>
<path d="M65.5,918.4L74.9,916.1 417.5,916.1 417.5,1246.1 392.6,1250.1 366.8,1253.2 214.2,1253.2 175.5,1248.7 137.5,1242.6 100.5,1234.7 65.5,1225.4Z" fill="#ffef00"/>
<path d="M65.5,921.3L87.1,916.1 408.1,916.1 417.5,918.1 417.5,1243.4 397.5,1246.8 376.5,1249.6 356,1251.7 334.2,1253.2 248.4,1253.2 220,1251.2 196.5,1248.9 173.5,1245.9 151,1242.4 128.5,1238.2 107,1233.6 86,1228.3 65.5,1222.5Z" fill="#faff00"/>
<path d="M65.5,924.2L82.5,920 100.4,916.1 394.3,916.1 417.5,920.8 417.5,1240.7 397.5,1244.1 376.5,1247 355,1249.2 333.5,1250.7 311.5,1251.6 289,1251.8 266,1251.4 243,1250.4 220,1248.7 196.5,1246.3 173,1243.3 150.5,1239.7 128,1235.4 106.5,1230.7 85.5,1225.4 65.5,1219.6Z" fill="#e4ff00"/>
<path d="M65.5,927.2L90,921.1 115.1,916.1 379,916.1 398.6,919.6 417.5,923.5 417.5,1237.9 397.5,1241.4 376.5,1244.3 355,1246.6 333.5,1248.1 311,1249 288.5,1249.3 265.5,1248.9 242.5,1247.8 219.5,1246.1 196,1243.7 173,1240.7 150.5,1237 128,1232.7 106.5,1227.9 85.5,1222.5 65.5,1216.6Z" fill="#ceff00"/>
<path d="M65.5,930.3L81.4,926.1 97.5,922.4 114.5,919 132,916.1 361.7,916.1 390,920.7 417.5,926.3 417.5,1235.1 397.5,1238.7 376.7,1241.6 355.5,1243.9 333.5,1245.5 311.5,1246.4 288.5,1246.7 265.5,1246.3 242.5,1245.2 219.5,1243.5 196,1241.1 173,1238 150,1234.2 128,1230 106.5,1225.1 85.5,1219.6 65.5,1213.6Z" fill="#b8ff00"/>
<path d="M65.5,933.4L85.5,928.1 107,923.4 129,919.4 152,916.1 341.2,916.1 360.5,918.6 380,921.7 399,925.2 417.5,929.2 417.5,1232.2 397.5,1235.9 376.5,1238.9 355.5,1241.2 333.5,1242.8 311,1243.8 288.5,1244.1 265,1243.7 242,1242.6 218.5,1240.8 195.5,1238.3 172.5,1235.2 150,1231.5 127.8,1227.1 106,1222.1 85.5,1216.6 65.5,1210.5Z" fill="#a3ff00"/>
<path d="M65.5,936.6L91.5,929.7 119,924 148,919.4 178,916.1 314.7,916.1 341.5,918.8 367.5,922.4 393,926.9 417.5,932.1 417.5,1229.3 397,1233.1 376.5,1236.1 355,1238.5 333.5,1240.1 311,1241.1 288,1241.4 265,1241 242,1239.9 218.5,1238.1 195.5,1235.6 172.5,1232.5 149.5,1228.6 127.5,1224.2 105.9,1219.1 85.5,1213.6 65.5,1207.3Z" fill="#8dff00"/>
<path d="M65.5,939.9L83.5,934.8 102,930.4 121.5,926.5 141.5,923.2 162,920.5 183,918.5 204.5,917 226.8,916.1 265.5,916.1 300.5,917.7 325,919.8 349,922.5 372.5,926 395.5,930.2 417.5,935.1 417.5,1226.3 397.6,1230.1 377,1233.2 355.5,1235.6 333.5,1237.4 311.5,1238.4 288.5,1238.7 265.5,1238.3 242,1237.2 218.5,1235.4 195,1232.8 172,1229.6 149.5,1225.7 127.5,1221.3 106,1216.1 85,1210.3 65.5,1204.1Z" fill="#77ff00"/>
<path d="M65.5,943.2L84,937.9 103.8,933.1 124,929.1 145.2,925.6 167,922.8 189.5,920.8 212.5,919.4 235.5,918.7 259,918.7 282.5,919.4 306,920.9 329.5,923 352,925.8 374.5,929.2 396.5,933.4 417.5,938.1 417.5,1223.3 397.8,1227.1 377,1230.3 355.5,1232.8 333.5,1234.6 311,1235.6 288,1236 265,1235.6 241.5,1234.4 218.5,1232.6 195,1230 171.5,1226.7 149,1222.7 127,1218.2 105.5,1212.9 85,1207.1 65.5,1200.8Z" fill="#62ff00"/>
<path d="M65.5,946.6L84.3,941.1 103.5,936.3 124.1,932.1 145,928.6 166.5,925.8 189,923.7 212,922.2 235,921.5 258.5,921.5 282,922.2 305.5,923.6 329,925.8 352,928.6 374.5,932.2 396.5,936.4 417.5,941.2 417.5,1220.2 397.7,1224.1 377,1227.4 355.5,1229.9 333.5,1231.7 311,1232.8 288,1233.2 264.5,1232.7 241.5,1231.6 218,1229.7 194.5,1227.1 171.5,1223.8 148.5,1219.7 126.5,1215 105,1209.6 84.5,1203.7 65.5,1197.3Z" fill="#4cff00"/>
<path d="M65.5,950.2L83.8,944.6 103.4,939.6 124,935.2 145,931.7 166.5,928.8 189,926.6 212,925.1 235,924.4 258.5,924.3 282,925.1 305.5,926.5 329,928.7 352.3,931.6 374.5,935.1 396.5,939.4 417.5,944.3 417.5,1217 397.5,1221.1 376.5,1224.4 355,1227 333,1228.9 310.5,1230 287.5,1230.3 264.5,1229.9 241,1228.7 217.5,1226.8 194,1224.1 171,1220.7 148.2,1216.6 126.5,1211.9 105.5,1206.5 85,1200.5 65.5,1193.8Z" fill="#36ff00"/>
<path d="M65.5,953.8L83.7,948.1 103,943 123.2,938.6 144.5,934.9 166.5,931.8 188.6,929.6 211.5,928.1 235,927.3 258.5,927.2 282.5,928 306,929.4 329.5,931.7 352.4,934.6 375,938.3 396.7,942.6 417.5,947.6 417.5,1213.8 397.5,1217.9 376.5,1221.4 355,1224 333,1225.9 310.5,1227.1 287.5,1227.4 264,1227 240.5,1225.8 217,1223.8 193.5,1221.1 170.3,1217.6 148,1213.5 126,1208.6 105,1203.1 85,1197 65.5,1190.2Z" fill="#21ff00"/>
<path d="M65.5,957.5L83.9,951.6 103,946.4 123,941.9 144.1,938.1 166,935 188.5,932.6 211,931.1 234.5,930.2 258,930.2 282,930.9 305.5,932.4 329,934.6 352,937.6 374.5,941.3 396.5,945.8 417.5,950.9 417.5,1210.4 397.5,1214.7 376.5,1218.2 355,1221 333,1222.9 310.5,1224.1 287.5,1224.5 264,1224 240.5,1222.8 217,1220.8 193.5,1218.1 170.5,1214.5 147.5,1210.2 125.5,1205.2 104.5,1199.6 84.5,1193.3 65.5,1186.5Z" fill="#0bff00"/>
<path d="M65.5,961.4L83.5,955.4 102.5,950.1 123,945.3 144,941.4 165.5,938.2 188,935.8 211,934.1 234.5,933.3 258,933.2 282,933.9 306,935.4 329.5,937.7 352.5,940.8 375.1,944.6 396.8,949.1 417.5,954.3 417.5,1207 397.5,1211.4 376.5,1215 355,1217.8 333,1219.8 310.5,1221 287,1221.4 263.5,1221 240,1219.8 216.5,1217.7 193,1214.9 169.5,1211.2 147,1206.9 125.5,1201.9 104.5,1196.1 84.2,1189.6 65.5,1182.6Z" fill="#00ff0b"/>
<path d="M65.5,965.4L83.7,959.1 102.5,953.7 122.5,948.9 143.5,944.8 165,941.5 187.5,939 210.5,937.3 234,936.4 258,936.3 282,937 306,938.5 329.5,940.9 352.5,944 375,947.8 397,952.5 417.5,957.8 417.5,1203.5 397.5,1208 377,1211.7 355.5,1214.6 333,1216.7 310,1217.9 287,1218.4 263.5,1217.9 240,1216.7 216,1214.6 192.5,1211.7 169.5,1208 147,1203.5 125,1198.3 104,1192.4 84,1185.8 65.5,1178.6Z" fill="#00ff21"/>
<path d="M65.5,969.6L83.4,963.1 102,957.5 122,952.5 143,948.3 164.5,944.9 187,942.3 210,940.5 233.5,939.6 257.5,939.4 281.5,940.1 305.5,941.7 329.5,944.1 352.5,947.2 375,951.2 397,956 417.5,961.4 417.5,1199.9 397.5,1204.6 377,1208.3 355.5,1211.3 333,1213.5 310,1214.8 286.5,1215.2 263,1214.8 239.5,1213.5 215.5,1211.3 192,1208.4 169,1204.6 146,1199.9 124.4,1194.6 103.5,1188.5 84,1181.9 65.5,1174.5Z" fill="#00ff36"/>
<path d="M65.5,973.9L83,967.3 101.5,961.5 121.5,956.3 142.5,951.9 164.5,948.4 187,945.7 210,943.8 233.5,942.8 257.5,942.6 281.5,943.3 305.5,944.9 329.5,947.3 352.7,950.6 375,954.6 397,959.5 417.5,965.1 417.5,1196.2 397.5,1201 377,1204.9 355.5,1208 333,1210.2 310,1211.5 286.5,1212 263,1211.6 239,1210.2 215.5,1208.1 191.5,1205 168.5,1201.1 145.5,1196.3 123.5,1190.7 103.2,1184.6 83.5,1177.6 65.5,1170.2Z" fill="#00ff4c"/>
<path d="M65.5,978.4L82.8,971.6 101.1,965.6 121,960.2 142,955.7 163.5,952 186.5,949.1 209.5,947.2 233,946.1 257,945.9 281.5,946.6 305.5,948.2 329.5,950.7 352.5,954 375,958.1 396.7,963.1 417.5,968.9 417.5,1192.4 398,1197.2 377,1201.3 355.5,1204.5 333,1206.8 310,1208.2 286.5,1208.7 262.5,1208.2 238.5,1206.9 214.5,1204.6 191,1201.5 167.5,1197.4 145,1192.6 123.5,1187 103,1180.6 83.9,1173.6 65.5,1165.7Z" fill="#00ff62"/>
<path d="M65.5,983.2L82.6,976.1 101,969.8 120.5,964.3 141.1,959.6 163,955.7 185.5,952.8 209,950.7 232.5,949.5 256.5,949.3 281,950 305.5,951.6 329.5,954.2 353,957.6 375.5,961.9 397,966.9 417.5,972.8 417.5,1188.4 397.5,1193.5 377,1197.7 355.5,1201 333,1203.3 310,1204.8 286,1205.3 262,1204.9 238,1203.5 213.8,1201.1 190,1197.8 166.5,1193.6 144,1188.6 122,1182.6 101.9,1176.1 83,1168.8 65.5,1160.9Z" fill="#00ff77"/>
<path d="M65.5,988.2L82.5,980.7 100.5,974.2 119.6,968.6 140.5,963.6 162.2,959.6 184.5,956.5 208,954.3 232,953 256.5,952.8 281,953.4 305.5,955.1 329.5,957.7 352.5,961.1 375.4,965.6 397,970.9 417.5,976.9 417.5,1184.3 397.6,1189.6 377,1193.9 355,1197.4 332.5,1199.8 309.5,1201.3 285.5,1201.8 261.5,1201.4 237,1199.9 213,1197.5 189,1194.1 165.5,1189.7 143,1184.5 121.5,1178.4 101.5,1171.7 82.7,1164.1 65.5,1155.9Z" fill="#00ff8d"/>
<path d="M65.5,993.5L81.5,986 99.5,979.1 118.7,973.1 139.5,967.9 161.4,963.6 184,960.3 207.5,958 231.5,956.7 256,956.3 281,957 305.5,958.7 329.5,961.4 353.5,965.1 376,969.6 397.5,975 417.5,981.2 417.5,1180 398,1185.4 377.5,1189.9 356,1193.5 333.5,1196.1 310.5,1197.7 287,1198.3 263,1197.9 239,1196.5 215,1194.1 191,1190.7 168,1186.4 145.5,1181.1 124.3,1175.1 104.5,1168.3 86,1160.8 65.5,1150.6Z" fill="#00ffa3"/>
<path d="M65.5,999.3L81.5,991.2 98.9,984.1 118,977.7 138.5,972.3 160,967.9 182.5,964.4 206,961.9 230.5,960.4 255,960 280,960.6 305,962.4 329.4,965.1 353,968.8 375.9,973.6 397,979.1 417.5,985.7 417.5,1175.5 399,1181 379.5,1185.5 359,1189.1 337.5,1191.9 315.5,1193.7 292.5,1194.5 269.5,1194.4 246.5,1193.3 223,1191.3 200,1188.3 177.5,1184.4 156,1179.7 135.2,1174.1 115.5,1167.7 97,1160.6 80.5,1153 65.5,1144.9Z" fill="#00ffb8"/>
<path d="M65.5,1005.5L80.8,997.1 97.7,989.6 116.5,982.9 136.9,977.1 158.5,972.3 181,968.6 204.5,965.9 229,964.3 254,963.8 279.5,964.4 304.5,966.1 329,968.9 352.5,972.8 375.5,977.7 397.4,983.6 417.5,990.4 417.5,1170.8 400,1176.3 381,1181 361.5,1184.7 341,1187.6 320,1189.5 298.5,1190.6 276.5,1190.7 254,1190 231.5,1188.3 209.5,1185.7 187.5,1182.3 166.5,1178 146.5,1173 127,1167.1 109,1160.6 92,1153.2 78,1146.1 65.5,1138.7Z" fill="#00ffce"/>
<path d="M65.5,1012.3L79.9,1003.6 96.5,995.5 115,988.4 135,982.2 156.4,977.1 179,973.1 203,970.1 227.5,968.3 253,967.7 278.5,968.3 304,970 329,973 353,977 375.8,982.1 397.1,988.1 417.5,995.3 417.5,1165.9 401,1171.3 383.5,1176 365,1179.8 345.5,1182.9 325.5,1185.1 305,1186.4 284,1186.9 262.5,1186.5 241,1185.2 219.5,1183 198.5,1180 178,1176.3 158,1171.6 139,1166.3 121,1160.2 104.6,1153.6 93.9,1148.6 83.5,1143.2 74.1,1137.6 65.5,1131.8Z" fill="#00ffe4"/>
<path d="M65.5,1020.1L79,1010.7 94.5,1002.3 112.4,994.6 131.6,988.1 152.5,982.6 175.1,978.1 199,974.8 223.5,972.7 249,971.8 274.5,972.2 300,973.8 325,976.6 349.2,980.6 372,985.7 394,991.9 417.5,1000.5 417.5,1160.6 402,1166.1 385.5,1170.8 368.5,1174.7 350,1177.9 331,1180.4 311.5,1181.9 291.5,1182.7 271.5,1182.7 251,1181.8 230.5,1180.1 210,1177.6 190.5,1174.4 171,1170.3 152.7,1165.6 135,1160.1 118.6,1154.1 103,1147.3 89.2,1140.1 76.5,1132.3 65.5,1124.1Z" fill="#00fffa"/>
<path d="M65.5,1029.2L71,1024.3 77.1,1019.6 91,1010.7 107,1002.7 124.5,995.7 144,989.7 165,984.6 187.5,980.7 210.5,978 234.5,976.4 259.5,976 284.5,976.9 309,978.9 333,982.2 356.3,986.6 378.2,992.1 398.6,998.6 417.5,1006.2 417.5,1155 403.5,1160.3 388.3,1165.1 372.5,1169.1 355.5,1172.5 338,1175.1 319.5,1177.1 301,1178.2 282,1178.6 263,1178.2 243.5,1177.1 224.5,1175.2 205.5,1172.5 186.5,1169.1 168.8,1165.1 151.5,1160.4 135.4,1155.1 114.2,1146.6 104.5,1142 95,1136.8 86.4,1131.6 78.5,1126.1 71.6,1120.6 65.5,1115Z" fill="#00efff"/>
<path d="M65.5,1040.9L69.4,1036.1 74.3,1031.1 85.5,1021.9 99,1013.3 114.6,1005.6 132,998.8 151,993 172,988.2 194,984.5 217,982 241,980.6 265,980.5 289.5,981.6 313.5,983.9 337,987.5 359.3,992.1 380,997.7 399.9,1004.6 417.5,1012.2 417.5,1148.9 405,1154.1 391,1159 376.5,1163.1 361.2,1166.6 345,1169.5 328.5,1171.6 311.5,1173.2 294,1174 276,1174.1 258,1173.6 240,1172.3 222,1170.4 204,1167.7 187,1164.5 170.5,1160.6 154.5,1156.1 139.5,1151.1 125.5,1145.6 113,1139.9 101.4,1133.6 90.5,1126.7 81.1,1119.6 73,1112.1 65.5,1103.3Z" fill="#00d9ff"/>
<path d="M65.5,1061.6L67.3,1056.1 69.5,1051.1 72.8,1045.6 76.5,1040.6 81,1035.6 85.8,1031.1 97.6,1022.1 112,1013.7 128,1006.4 146.5,999.9 166.5,994.6 188,990.4 210.5,987.3 234,985.6 258,985 282,985.8 306,987.8 329.5,991 352,995.5 370,1000.1 387.1,1005.6 403,1011.9 417.5,1018.9 417.5,1142.2 407,1147.2 395,1151.9 382.5,1156 369.5,1159.5 355.6,1162.6 341.4,1165.1 326.5,1167.1 311,1168.5 295.5,1169.3 279.5,1169.5 263,1169.2 247,1168.3 231,1166.8 215,1164.7 199.8,1162.1 184.5,1158.9 169.5,1155.1 156,1151.1 142.9,1146.6 130.6,1141.6 119,1136.2 108.7,1130.6 99.3,1124.6 90.6,1118.1 83.4,1111.6 77,1104.6 72,1097.6 68.3,1090.6 65.5,1082.6Z" fill="#00c3ff"/>
<path d="M75.6,1064.1L77,1059.1 79,1054.1 81.7,1049.1 84.8,1044.6 89,1039.6 93.5,1035.1 104.1,1026.6 117.1,1018.6 131.8,1011.6 148.5,1005.4 167,1000.1 186.5,995.9 207.5,992.8 229,990.8 251.5,989.9 274,990.2 296.5,991.7 318.5,994.3 340,998.1 362.5,1003.6 382.9,1010.1 401,1017.6 409.5,1021.8 417.5,1026.4 417.5,1134.8 407.5,1140.1 397.3,1144.6 385.5,1149 373.5,1152.8 360.5,1156.1 347,1158.9 333,1161.1 318.5,1162.9 303.5,1164 288.5,1164.6 273,1164.6 257.5,1164.1 242,1163 226.5,1161.3 211.5,1159.1 196.5,1156.3 182.5,1153.1 169,1149.4 155.5,1145.1 143.5,1140.6 132,1135.6 121.2,1130.1 111.5,1124.3 103,1118.4 95.4,1112.1 89,1105.6 83.9,1099.1 79.7,1092.1 76.8,1085.1 75.2,1078.1 74.8,1071.1Z" fill="#00aeff"/>
<path d="M86.6,1065.6L87.7,1061.1 89.4,1056.6 91.7,1052.1 94.6,1047.6 102,1039.1 111.5,1031.1 123.1,1023.6 136.5,1016.9 151.5,1011 168.5,1005.8 186.5,1001.6 205.5,998.5 225.5,996.3 246,995.2 266.5,995.1 287.5,996.1 308,998.2 328,1001.3 341.5,1004 354.5,1007.2 367,1010.9 379,1015.1 390,1019.6 400,1024.4 409.3,1029.6 417.5,1035 417.5,1126.1 409,1131.4 399.5,1136.4 389,1141.1 378,1145.1 366.5,1148.6 353.5,1151.9 340,1154.5 326.5,1156.6 312.5,1158.1 297.7,1159.1 283,1159.5 268,1159.4 253,1158.6 238,1157.4 223.5,1155.6 209,1153.2 195,1150.4 181.5,1147.1 168.1,1143.1 156,1138.9 144.3,1134.1 133.8,1129.1 124,1123.6 115.5,1118.1 107.9,1112.1 101,1105.6 95.6,1099.1 91.4,1092.6 88.4,1086.1 86.6,1079.1 86,1072.1Z" fill="#0098ff"/>
<path d="M98.4,1067.6L99.4,1063.1 100.7,1059.1 105,1051.1 111.5,1043.1 119.9,1035.6 130,1028.7 141.5,1022.6 154.5,1017.1 169.5,1012.1 185.5,1008 202.5,1004.8 220,1002.5 238.5,1001 257.5,1000.5 276.5,1001 295,1002.3 313.5,1004.6 330,1007.5 345.8,1011.1 361,1015.5 375,1020.5 387.7,1026.1 398.9,1032.1 408.8,1038.6 417.5,1045.8 417.5,1115.3 410.5,1121 402.9,1126.1 393.9,1131.1 384,1135.7 373.5,1139.7 362,1143.3 349.5,1146.6 337,1149.1 324,1151.1 310,1152.7 296,1153.6 281.5,1154 267,1153.9 252.5,1153.1 238,1151.8 224,1150 210,1147.6 196.5,1144.7 183.5,1141.3 171.4,1137.6 159.5,1133.2 148.8,1128.6 138.9,1123.6 129.7,1118.1 122,1112.6 115,1106.6 109,1100.2 104.5,1093.9 101,1087.2 98.9,1080.6 98,1074.1Z" fill="#0082ff"/>
<path d="M111.1,1070.1L112.7,1062.6 115.9,1055.6 120.9,1048.6 127.3,1042.1 135,1036.1 144.7,1030.1 156,1024.7 168,1020 181,1016 195.4,1012.6 210.5,1009.9 226,1008 242.5,1006.8 259,1006.4 275.5,1006.8 292,1008 308,1009.9 323.5,1012.5 338.5,1015.8 352.5,1019.8 366,1024.5 377.7,1029.6 388.5,1035.3 398,1041.5 404.4,1046.6 409.6,1051.6 413.9,1056.6 417.5,1062.1 417.5,1099 413.3,1105.1 407.8,1111.1 401.3,1116.6 393.5,1122 385,1126.7 375.5,1131.1 365,1135.1 353.5,1138.7 341.5,1141.7 328.8,1144.1 315.5,1146 302,1147.3 288,1148 274,1148.1 259.5,1147.6 245.5,1146.6 231.5,1145 217.5,1142.8 204,1140 191,1136.7 178.5,1132.8 167.1,1128.6 156.8,1124.1 147,1119 138.3,1113.6 130.5,1107.7 124,1101.6 119,1095.6 115.3,1089.6 112.6,1083.1 111.2,1076.6Z" fill="#006dff"/>
<path d="M125.3,1071.1L126.6,1064.6 129.1,1058.6 133.1,1052.6 138.1,1047.1 144.6,1041.6 152.1,1036.6 160.4,1032.1 170,1027.9 180.5,1024.1 192,1020.8 204,1018.1 217,1015.9 230.5,1014.3 244,1013.3 258,1012.9 271.7,1013.1 285.5,1013.9 299,1015.3 312.5,1017.3 325.5,1019.9 338,1023 349.7,1026.6 360.3,1030.6 370.3,1035.1 379.4,1040.1 386.9,1045.1 393.6,1050.6 399.4,1056.6 403.7,1062.6 406.9,1069.1 408.6,1075.1 409,1081.6 408.1,1088.1 405.9,1094.1 402.4,1100.1 397.4,1106.1 391.4,1111.6 383.8,1117.1 375.5,1121.8 366,1126.2 355.8,1130.1 344.5,1133.5 332.5,1136.3 320,1138.6 307,1140.2 293.5,1141.2 279.5,1141.7 265.5,1141.5 251.5,1140.6 237.5,1139.2 223.9,1137.1 210.5,1134.4 197.5,1131.1 186,1127.5 174.5,1123.2 164.4,1118.6 155.3,1113.6 147.1,1108.1 140.4,1102.6 134.5,1096.4 130,1090.1 127.2,1084.1 125.5,1077.6Z" fill="#0057ff"/>
<path d="M141.2,1071.6L142.3,1066.1 144.6,1060.6 147.8,1055.6 152.5,1050.5 158.3,1045.6 165,1041.1 172.5,1037.1 181.5,1033.1 191,1029.8 201,1027 211.6,1024.6 223,1022.7 235,1021.3 247,1020.4 259,1020.1 271.5,1020.2 283.5,1021 295.5,1022.2 307.5,1023.9 319,1026.2 330,1028.9 340.3,1032.1 350,1035.7 359,1039.8 367,1044.1 374.4,1049.1 380.5,1054.1 385.2,1059.1 389.2,1064.6 391.9,1070.1 393.4,1075.6 393.8,1081.1 392.9,1087.1 390.8,1092.6 387.5,1098.1 383.3,1103.1 377.7,1108.1 371.4,1112.6 364,1116.8 355.5,1120.8 346.5,1124.1 336.5,1127.2 326,1129.7 314.5,1131.7 302.5,1133.2 290.5,1134.1 278,1134.5 265.5,1134.3 253,1133.5 240.5,1132.2 228.5,1130.4 216.5,1128 205.3,1125.1 194.5,1121.7 185,1118.1 175.5,1113.7 167.5,1109.3 160.5,1104.6 154.4,1099.6 149.2,1094.1 145.4,1088.6 142.8,1083.1 141.4,1077.6Z" fill="#0041ff"/>
<path d="M159.4,1072.6L160.3,1067.6 162.2,1063.1 165.2,1058.6 169,1054.4 174,1050.2 179.5,1046.5 186,1042.9 193.6,1039.6 202,1036.6 210.5,1034.2 220,1032.1 229.5,1030.5 250,1028.5 271,1028.4 292,1030.1 312,1033.6 321.5,1035.9 330.1,1038.6 338.2,1041.6 346,1045.1 353,1048.9 359,1052.8 364.3,1057.1 368.6,1061.6 372,1066.1 374.5,1071.1 375.8,1075.6 376.2,1080.6 375.4,1085.6 373.6,1090.6 370.8,1095.1 367,1099.6 362.5,1103.6 356.8,1107.6 350.5,1111.2 343.1,1114.6 335,1117.6 326.5,1120.1 317.5,1122.2 307.5,1124 287,1126 266,1126.1 244.5,1124.3 224,1120.7 214.5,1118.3 205.5,1115.5 196.6,1112.1 189,1108.6 181.8,1104.6 175.8,1100.6 170.4,1096.1 166.2,1091.6 163.1,1087.1 160.7,1082.1 159.5,1077.3Z" fill="#002bff"/>
<path d="M181.3,1073.6L182.1,1069.6 183.6,1066.1 185.8,1062.6 188.9,1059.1 193,1055.7 197.5,1052.6 208.5,1047.3 221.5,1043.1 237,1040 253.5,1038.4 270.5,1038.3 287,1039.6 303,1042.3 318,1046.5 330.5,1051.6 336.1,1054.6 341.4,1058.1 345.6,1061.6 349,1065.1 351.5,1068.6 353.5,1072.6 354.5,1076.2 354.8,1080.1 354.2,1084.1 352.9,1087.6 350.5,1091.6 347.5,1095.1 343.5,1098.6 339.2,1101.6 333.8,1104.6 328.3,1107.1 314.6,1111.6 299.6,1114.6 283.5,1116.2 266.5,1116.3 249.5,1114.9 233,1112 218,1107.7 205,1102.3 199.3,1099.1 194.1,1095.6 190,1092.1 186.8,1088.6 184.3,1085.1 182.4,1081.1 181.5,1077.5Z" fill="#0016ff"/>
<path d="M211.3,1074.6L211.8,1072.1 212.9,1069.6 216.5,1065.1 221.9,1061.1 229,1057.6 238,1054.7 248,1052.8 259,1051.7 270,1051.6 281,1052.5 291.5,1054.4 301.3,1057.1 309.8,1060.6 316.4,1064.6 321.4,1069.1 324.6,1074.1 325.3,1076.6 325.5,1079.1 325.1,1081.6 324.2,1084.1 322.7,1086.6 320.6,1089.1 315.4,1093.1 308,1096.9 299,1099.8 289,1101.8 278,1102.9 267,1102.9 256,1102 245,1100 235,1097.2 226.6,1093.6 219.5,1089.2 214.7,1084.6 211.9,1079.6 211.3,1077.1Z" fill="#0000ff"/>
<path d="M417.5,1062.1L413.5,1056.1 408.2,1050.1 401.5,1044.1 394,1038.7 385.5,1033.6 376,1028.8 366,1024.5 354.5,1020.4 342.5,1016.9 330,1013.8 316.5,1011.2 303,1009.2 289,1007.7 275,1006.8 260.5,1006.4 246.5,1006.7 232.5,1007.4 219,1008.8 206,1010.6 193.1,1013.1 180.8,1016.1 169.5,1019.5 159,1023.4 149.6,1027.6 140.5,1032.5 132.8,1037.6 126.2,1043.1 120.9,1048.6 116.5,1054.6 113.5,1060.6 111.6,1066.6 111,1073.1 111.7,1079.6 113.4,1085.6 116.7,1092.1 120.9,1098.1 126.5,1104.1 133.5,1110.1 141.4,1115.6 150,1120.6 160.1,1125.6 170.9,1130.1 182.4,1134.1 194.5,1137.6 207.5,1140.8 221,1143.4 235,1145.4 249,1146.9 263,1147.8 277,1148.1 291,1147.9 304.5,1147.1 318,1145.7 331,1143.7 343.5,1141.2 355,1138.3 366.5,1134.6 376.5,1130.7 386,1126.2 394.1,1121.6 401.5,1116.5 408,1110.9 413.3,1105.1 417.5,1099M417.5,1006.2L397.5,998.2 376,991.5 352.5,985.8 327.5,981.3 301.5,978.2 275.5,976.4 249,976 222.5,977 197,979.4 173,983.1 150,988.1 129.3,994.1 110,1001.4 93,1009.6 85.3,1014.1 77.8,1019.1 71.3,1024.1 65.5,1029.2M65.5,1115L71.5,1120.5 77.8,1125.6 84.9,1130.6 92.9,1135.6 110.5,1144.9 130.5,1153.3 152.5,1160.7 176,1166.8 200.5,1171.7 226.5,1175.4 252.5,1177.7 279,1178.6 305,1178 330,1176.1 354,1172.8 376.8,1168.1 398.3,1162.1 417.5,1155M417.5,976.9L397,970.9 375.4,965.6 352.5,961.1 329.5,957.7 305.5,955.1 281,953.4 256.5,952.8 232,953 208,954.3 184.5,956.5 162.2,959.6 140.5,963.6 119.6,968.6 100.5,974.2 82.5,980.7 65.5,988.2M65.5,1155.9L82.7,1164.1 101.5,1171.7 121.5,1178.4 143,1184.5 165.5,1189.7 189,1194.1 213,1197.5 237,1199.9 261.5,1201.4 285.5,1201.8 309.5,1201.3 332.5,1199.8 355,1197.4 377,1193.9 397.6,1189.6 417.5,1184.3M417.5,954.3L396.8,949.1 375.1,944.6 352.5,940.8 329.5,937.7 306,935.4 282,933.9 258,933.2 234.5,933.3 211,934.1 188,935.8 165.5,938.2 144,941.4 123,945.3 102.5,950.1 83.5,955.4 65.5,961.4M65.5,1182.6L84.2,1189.6 104.5,1196.1 125.5,1201.9 147,1206.9 169.5,1211.2 193,1214.9 216.5,1217.7 240,1219.8 263.5,1221 287,1221.4 310.5,1221 333,1219.8 355,1217.8 376.5,1215 397.5,1211.4 417.5,1207M226.8,916.1L204.5,917 183,918.5 162,920.5 141.5,923.2 121.5,926.5 102,930.4 83.5,934.8 65.5,939.9M417.5,935.1L399.7,931.1 381.6,927.6 363,924.5 344,921.9 305,918 265.5,916.1M65.5,1204.1L85,1210.3 106,1216.1 127.5,1221.3 149.5,1225.7 172,1229.6 195,1232.8 218.5,1235.4 242,1237.2 265.5,1238.3 288.5,1238.7 311.5,1238.4 333.5,1237.4 355.5,1235.6 377,1233.2 397.6,1230.1 417.5,1226.3M87.1,916.1L65.5,921.3M417.5,918.1L408.1,916.1M65.5,1222.5L86.5,1228.5 108,1233.8 130.5,1238.6 153.5,1242.8 177,1246.4 200.5,1249.3 224.5,1251.6 248.4,1253.2M334.2,1253.2L356,1251.7 376.5,1249.6 397.5,1246.8 417.5,1243.4M65.5,1239L95.5,1246.6 127.2,1253.2" fill="none" stroke="#606060" stroke-opacity="0.45" stroke-width="1"/>
<rect x="65.5" y="916.1" width="351.9" height="337.1" fill="none" stroke="#1a1a1a" stroke-width="1.6"/><path d="M81.4,1253.2v4.2M108.1,1253.2v7.4M134.8,1253.2v4.2M161.5,1253.2v7.4M188.2,1253.2v4.2M214.9,1253.2v7.4M241.6,1253.2v4.2M268.3,1253.2v7.4M295,1253.2v4.2M321.7,1253.2v7.4M348.4,1253.2v4.2M375.1,1253.2v7.4M401.8,1253.2v4.2M65.5,1236.1h-4.2M65.5,1214.5h-7.4M65.5,1192.8h-4.2M65.5,1171.2h-7.4M65.5,1149.5h-4.2M65.5,1127.8h-7.4M65.5,1106.2h-4.2M65.5,1084.5h-7.4M65.5,1062.8h-4.2M65.5,1041.2h-7.4M65.5,1019.5h-4.2M65.5,997.8h-7.4M65.5,976.2h-4.2M65.5,954.5h-7.4M65.5,932.8h-4.2" stroke="#1a1a1a" stroke-width="1.4" fill="none"/><g font-family="Liberation Serif" font-size="15.5" fill="#1a1a1a"><text x="108.1" y="1275.4" text-anchor="middle">0.5</text><text x="161.5" y="1275.4" text-anchor="middle">1.0</text><text x="214.9" y="1275.4" text-anchor="middle">1.5</text><text x="268.3" y="1275.4" text-anchor="middle">2.0</text><text x="321.7" y="1275.4" text-anchor="middle">2.5</text><text x="375.1" y="1275.4" text-anchor="middle">3.0</text><text x="54.8" y="1219.6" text-anchor="end">1</text><text x="54.8" y="1176.2" text-anchor="end">2</text><text x="54.8" y="1132.9" text-anchor="end">3</text><text x="54.8" y="1089.6" text-anchor="end">4</text><text x="54.8" y="1046.3" text-anchor="end">5</text><text x="54.8" y="1002.9" text-anchor="end">6</text><text x="54.8" y="959.6" text-anchor="end">7</text></g><text x="220.3" y="1306.2" font-family="Liberation Serif" font-size="18" fill="#1a1a1a"><tspan font-style="italic">X</tspan><tspan font-style="italic" font-size="11" dy="4.5">3</tspan><tspan dy="-4.5">(m)</tspan></text><text transform="translate(26.2,1084) rotate(-90)" text-anchor="middle" font-family="Liberation Serif" font-size="18" fill="#1a1a1a"><tspan font-style="italic">Y</tspan><tspan font-style="italic" font-size="11" dy="4.5">3</tspan><tspan dy="-4.5">(m)</tspan></text><text x="280.8" y="1331.3" font-family="Liberation Serif" font-size="19" fill="#1a1a1a">(<tspan font-weight="bold">c</tspan>)</text>
<rect x="474.5" y="916.1" width="28.7" height="7" fill="#808080"/>
<rect x="474.5" y="1247.4" width="28.7" height="6.3" fill="#000"/>
<defs><linearGradient id="g916" x1="0" y1="0" x2="0" y2="1"><stop offset="0.000%" stop-color="#ff0000"/><stop offset="2.083%" stop-color="#ff0000"/><stop offset="2.083%" stop-color="#ff1600"/><stop offset="4.167%" stop-color="#ff1600"/><stop offset="4.167%" stop-color="#ff2b00"/><stop offset="6.250%" stop-color="#ff2b00"/><stop offset="6.250%" stop-color="#ff4100"/><stop offset="8.333%" stop-color="#ff4100"/><stop offset="8.333%" stop-color="#ff5700"/><stop offset="10.417%" stop-color="#ff5700"/><stop offset="10.417%" stop-color="#ff6d00"/><stop offset="12.500%" stop-color="#ff6d00"/><stop offset="12.500%" stop-color="#ff8200"/><stop offset="14.583%" stop-color="#ff8200"/><stop offset="14.583%" stop-color="#ff9800"/><stop offset="16.667%" stop-color="#ff9800"/><stop offset="16.667%" stop-color="#ffae00"/><stop offset="18.750%" stop-color="#ffae00"/><stop offset="18.750%" stop-color="#ffc300"/><stop offset="20.833%" stop-color="#ffc300"/><stop offset="20.833%" stop-color="#ffd900"/><stop offset="22.917%" stop-color="#ffd900"/><stop offset="22.917%" stop-color="#ffef00"/><stop offset="25.000%" stop-color="#ffef00"/><stop offset="25.000%" stop-color="#faff00"/><stop offset="27.083%" stop-color="#faff00"/><stop offset="27.083%" stop-color="#e4ff00"/><stop offset="29.167%" stop-color="#e4ff00"/><stop offset="29.167%" stop-color="#ceff00"/><stop offset="31.250%" stop-color="#ceff00"/><stop offset="31.250%" stop-color="#b8ff00"/><stop offset="33.333%" stop-color="#b8ff00"/><stop offset="33.333%" stop-color="#a3ff00"/><stop offset="35.417%" stop-color="#a3ff00"/><stop offset="35.417%" stop-color="#8dff00"/><stop offset="37.500%" stop-color="#8dff00"/><stop offset="37.500%" stop-color="#77ff00"/><stop offset="39.583%" stop-color="#77ff00"/><stop offset="39.583%" stop-color="#62ff00"/><stop offset="41.667%" stop-color="#62ff00"/><stop offset="41.667%" stop-color="#4cff00"/><stop offset="43.750%" stop-color="#4cff00"/><stop offset="43.750%" stop-color="#36ff00"/><stop offset="45.833%" stop-color="#36ff00"/><stop offset="45.833%" stop-color="#21ff00"/><stop offset="47.917%" stop-color="#21ff00"/><stop offset="47.917%" stop-color="#0bff00"/><stop offset="50.000%" stop-color="#0bff00"/><stop offset="50.000%" stop-color="#00ff0b"/><stop offset="52.083%" stop-color="#00ff0b"/><stop offset="52.083%" stop-color="#00ff21"/><stop offset="54.167%" stop-color="#00ff21"/><stop offset="54.167%" stop-color="#00ff36"/><stop offset="56.250%" stop-color="#00ff36"/><stop offset="56.250%" stop-color="#00ff4c"/><stop offset="58.333%" stop-color="#00ff4c"/><stop offset="58.333%" stop-color="#00ff62"/><stop offset="60.417%" stop-color="#00ff62"/><stop offset="60.417%" stop-color="#00ff77"/><stop offset="62.500%" stop-color="#00ff77"/><stop offset="62.500%" stop-color="#00ff8d"/><stop offset="64.583%" stop-color="#00ff8d"/><stop offset="64.583%" stop-color="#00ffa3"/><stop offset="66.667%" stop-color="#00ffa3"/><stop offset="66.667%" stop-color="#00ffb8"/><stop offset="68.750%" stop-color="#00ffb8"/><stop offset="68.750%" stop-color="#00ffce"/><stop offset="70.833%" stop-color="#00ffce"/><stop offset="70.833%" stop-color="#00ffe4"/><stop offset="72.917%" stop-color="#00ffe4"/><stop offset="72.917%" stop-color="#00fffa"/><stop offset="75.000%" stop-color="#00fffa"/><stop offset="75.000%" stop-color="#00efff"/><stop offset="77.083%" stop-color="#00efff"/><stop offset="77.083%" stop-color="#00d9ff"/><stop offset="79.167%" stop-color="#00d9ff"/><stop offset="79.167%" stop-color="#00c3ff"/><stop offset="81.250%" stop-color="#00c3ff"/><stop offset="81.250%" stop-color="#00aeff"/><stop offset="83.333%" stop-color="#00aeff"/><stop offset="83.333%" stop-color="#0098ff"/><stop offset="85.417%" stop-color="#0098ff"/><stop offset="85.417%" stop-color="#0082ff"/><stop offset="87.500%" stop-color="#0082ff"/><stop offset="87.500%" stop-color="#006dff"/><stop offset="89.583%" stop-color="#006dff"/><stop offset="89.583%" stop-color="#0057ff"/><stop offset="91.667%" stop-color="#0057ff"/><stop offset="91.667%" stop-color="#0041ff"/><stop offset="93.750%" stop-color="#0041ff"/><stop offset="93.750%" stop-color="#002bff"/><stop offset="95.833%" stop-color="#002bff"/><stop offset="95.833%" stop-color="#0016ff"/><stop offset="97.917%" stop-color="#0016ff"/><stop offset="97.917%" stop-color="#0000ff"/><stop offset="100.000%" stop-color="#0000ff"/></linearGradient></defs>
<rect x="474.5" y="923.1" width="28.7" height="324.3" fill="url(#g916)"/>
<rect x="474.5" y="916.1" width="28.7" height="337.6" fill="none" stroke="#333" stroke-width="1"/>
<path d="M503.2,923.1h6M503.2,963.6h6M503.2,1004.2h6M503.2,1044.7h6M503.2,1085.2h6M503.2,1125.8h6M503.2,1166.3h6M503.2,1206.9h6M503.2,1247.4h6" stroke="#333" stroke-width="1.3"/>
<g font-family="Liberation Serif" font-size="12.7" fill="#1a1a1a"><text x="513.6" y="927.4">0.004300</text><text x="513.6" y="967.9">0.003745</text><text x="513.6" y="1008.5">0.003190</text><text x="513.6" y="1049">0.002635</text><text x="513.6" y="1089.5">0.002080</text><text x="513.6" y="1130.1">0.001525</text><text x="513.6" y="1170.6">9.700×10<tspan font-size="9" dy="-5.5">−4</tspan></text><text x="513.6" y="1211.2">4.150×10<tspan font-size="9" dy="-5.5">−4</tspan></text><text x="513.6" y="1251.7">1.400×10<tspan font-size="9" dy="-5.5">−4</tspan></text></g>
<text x="469.1" y="908.7" font-family="Liberation Serif" font-size="17.2" fill="#1a1a1a"><tspan font-style="italic">B</tspan>(T)</text>
</svg>
</body></html>
